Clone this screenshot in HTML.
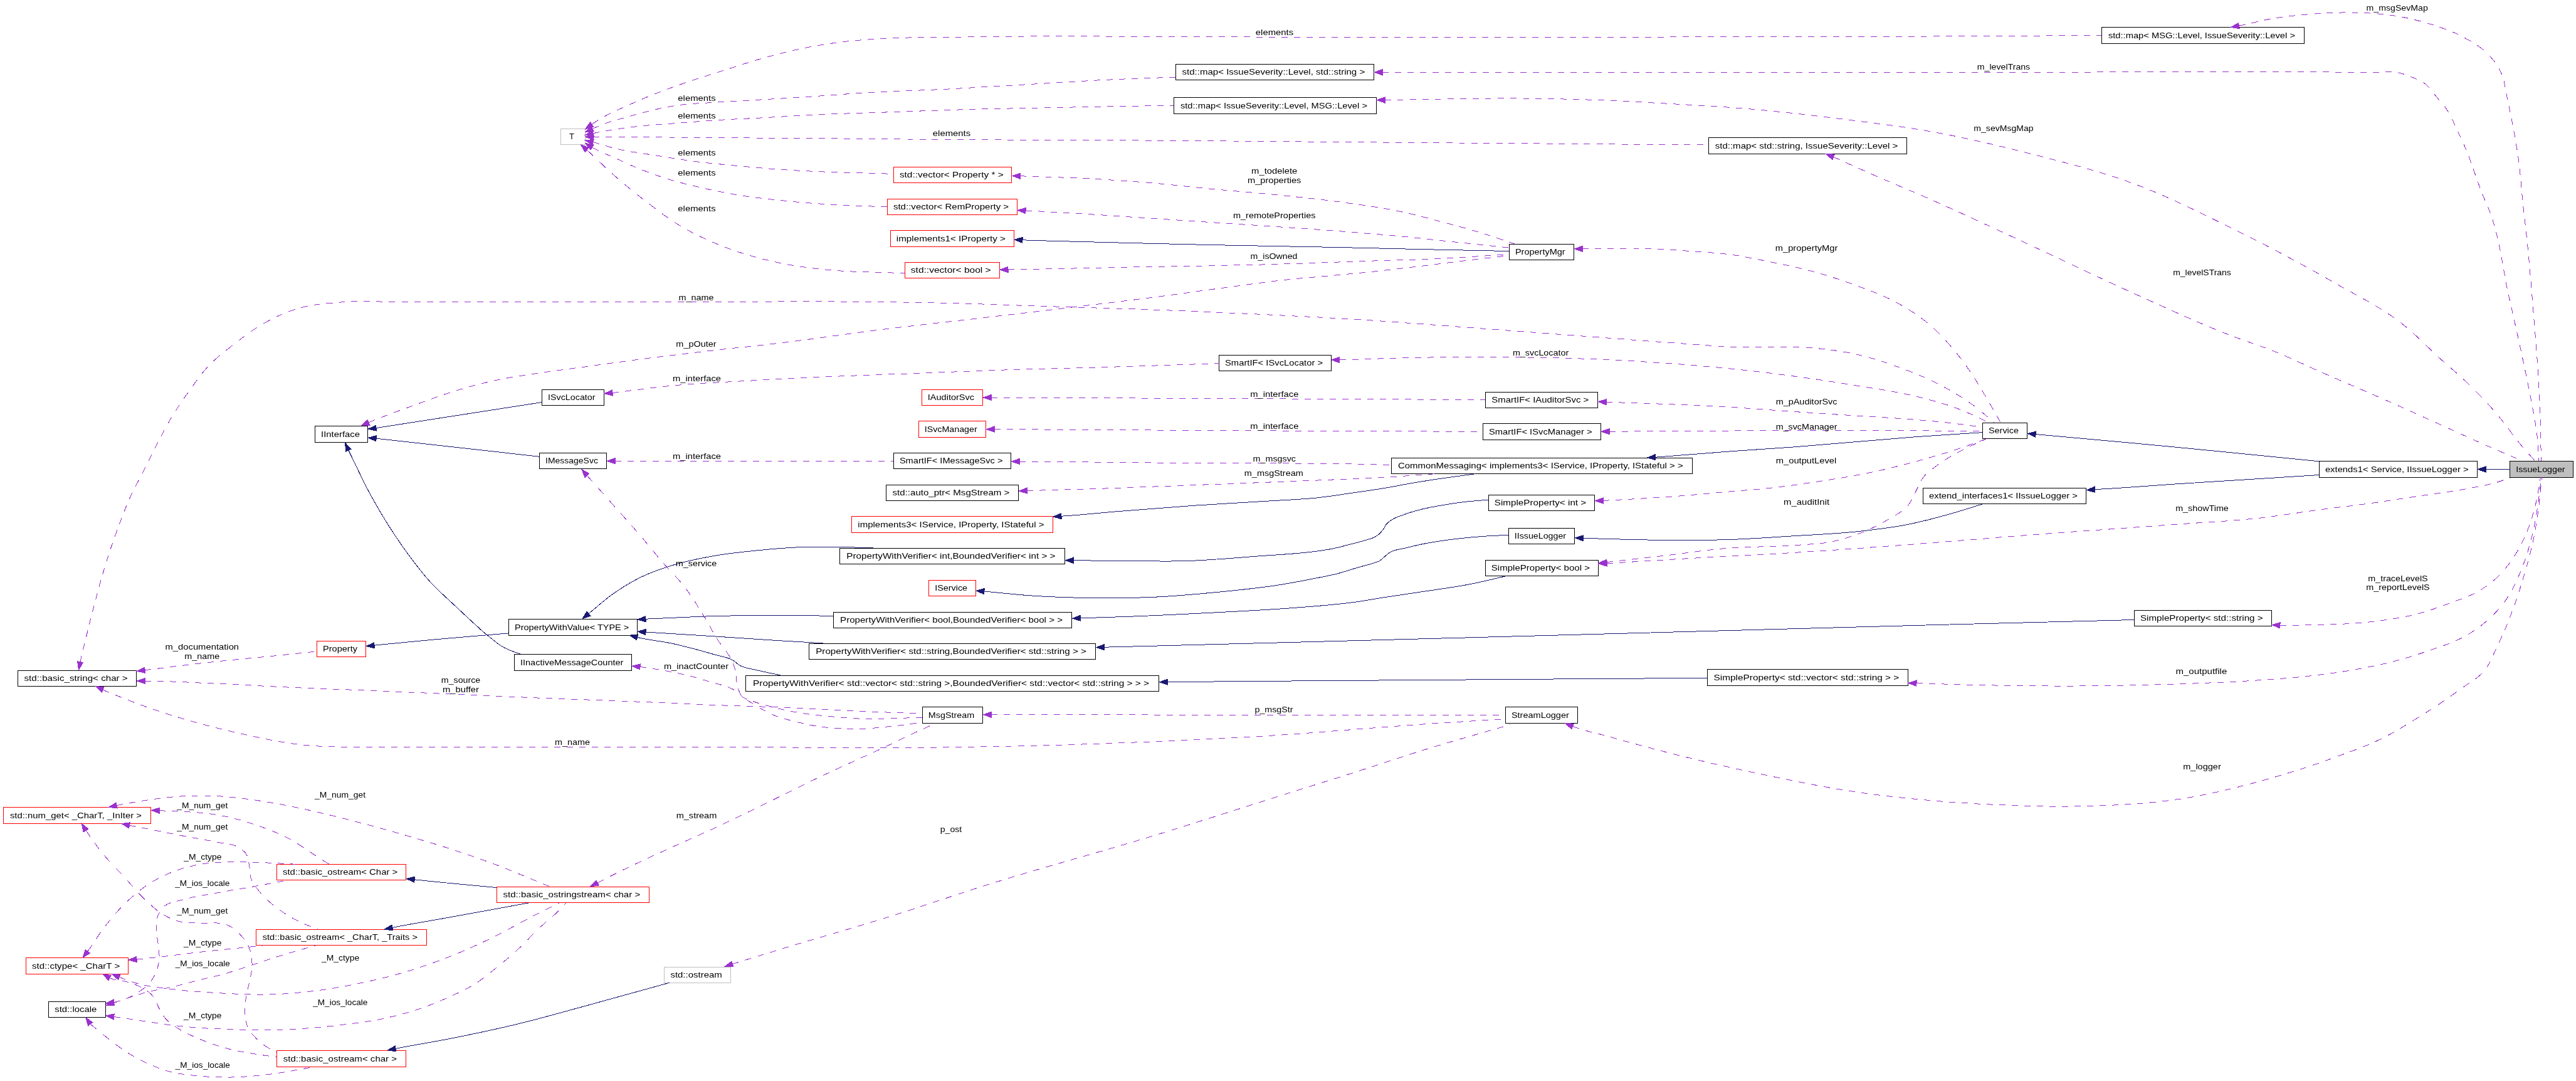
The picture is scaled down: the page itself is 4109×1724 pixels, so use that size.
<!DOCTYPE html>
<html><head><meta charset="utf-8"><title>IssueLogger collaboration diagram</title>
<style>html,body{margin:0;padding:0;background:#fff}svg{display:block;will-change:transform}text{font-family:"Liberation Sans",sans-serif;font-size:13.5px;fill:#000}</style></head><body>
<svg width="4109" height="1724" viewBox="0 0 4109 1724">
<rect width="4109" height="1724" fill="#fff"/>
<g stroke-width="1" shape-rendering="crispEdges">
<rect x="894.5" y="205.5" width="39" height="25" fill="#fff" stroke="#bfbfbf"/>
<rect x="3352.5" y="43.5" width="323" height="26" fill="#fff" stroke="#000"/>
<rect x="1875.5" y="102.5" width="316" height="25" fill="#fff" stroke="#000"/>
<rect x="1872.5" y="155.5" width="323" height="26" fill="#fff" stroke="#000"/>
<rect x="2725.5" y="219.5" width="316" height="26" fill="#fff" stroke="#000"/>
<rect x="1425.5" y="266.5" width="188" height="25" fill="#fff" stroke="#ff0000"/>
<rect x="1415.5" y="317.5" width="207" height="25" fill="#fff" stroke="#ff0000"/>
<rect x="1420.5" y="367.5" width="197" height="26" fill="#fff" stroke="#ff0000"/>
<rect x="1443.5" y="418.5" width="151" height="25" fill="#fff" stroke="#ff0000"/>
<rect x="2407.5" y="389.5" width="103" height="25" fill="#fff" stroke="#000"/>
<rect x="1944.5" y="566.5" width="179" height="25" fill="#fff" stroke="#000"/>
<rect x="864.5" y="621.5" width="99" height="25" fill="#fff" stroke="#000"/>
<rect x="1470.5" y="621.5" width="97" height="25" fill="#fff" stroke="#ff0000"/>
<rect x="2369.5" y="625.5" width="179" height="25" fill="#fff" stroke="#000"/>
<rect x="502.5" y="679.5" width="84" height="26" fill="#fff" stroke="#000"/>
<rect x="1465.5" y="671.5" width="107" height="26" fill="#fff" stroke="#ff0000"/>
<rect x="2365.5" y="675.5" width="188" height="26" fill="#fff" stroke="#000"/>
<rect x="3162.5" y="674.5" width="71" height="25" fill="#fff" stroke="#000"/>
<rect x="860.5" y="722.5" width="107" height="25" fill="#fff" stroke="#000"/>
<rect x="1425.5" y="722.5" width="187" height="25" fill="#fff" stroke="#000"/>
<rect x="2219.5" y="730.5" width="480" height="25" fill="#fff" stroke="#000"/>
<rect x="3699.5" y="735.5" width="252" height="26" fill="#fff" stroke="#000"/>
<rect x="4003.5" y="735.5" width="101" height="26" fill="#bfbfbf" stroke="#000"/>
<rect x="1413.5" y="773.5" width="211" height="25" fill="#fff" stroke="#000"/>
<rect x="2374.5" y="789.5" width="169" height="25" fill="#fff" stroke="#000"/>
<rect x="3067.5" y="778.5" width="260" height="25" fill="#fff" stroke="#000"/>
<rect x="1358.5" y="823.5" width="321" height="26" fill="#fff" stroke="#ff0000"/>
<rect x="2406.5" y="842.5" width="105" height="25" fill="#fff" stroke="#000"/>
<rect x="1339.5" y="874.5" width="359" height="25" fill="#fff" stroke="#000"/>
<rect x="2369.5" y="893.5" width="180" height="25" fill="#fff" stroke="#000"/>
<rect x="1481.5" y="925.5" width="75" height="25" fill="#fff" stroke="#ff0000"/>
<rect x="1329.5" y="976.5" width="380" height="25" fill="#fff" stroke="#000"/>
<rect x="3404.5" y="973.5" width="219" height="25" fill="#fff" stroke="#000"/>
<rect x="811.5" y="987.5" width="205" height="26" fill="#fff" stroke="#000"/>
<rect x="505.5" y="1022.5" width="78" height="25" fill="#fff" stroke="#ff0000"/>
<rect x="1290.5" y="1026.5" width="457" height="25" fill="#fff" stroke="#000"/>
<rect x="820.5" y="1043.5" width="187" height="26" fill="#fff" stroke="#000"/>
<rect x="28.5" y="1069.5" width="189" height="25" fill="#fff" stroke="#000"/>
<rect x="1189.5" y="1077.5" width="659" height="25" fill="#fff" stroke="#000"/>
<rect x="2723.5" y="1067.5" width="320" height="26" fill="#fff" stroke="#000"/>
<rect x="1471.5" y="1127.5" width="96" height="26" fill="#fff" stroke="#000"/>
<rect x="2401.5" y="1127.5" width="115" height="26" fill="#fff" stroke="#000"/>
<rect x="5.5" y="1287.5" width="235" height="26" fill="#fff" stroke="#ff0000"/>
<rect x="441.5" y="1378.5" width="206" height="25" fill="#fff" stroke="#ff0000"/>
<rect x="792.5" y="1414.5" width="243" height="25" fill="#fff" stroke="#ff0000"/>
<rect x="408.5" y="1482.5" width="272" height="25" fill="#fff" stroke="#ff0000"/>
<rect x="41.5" y="1527.5" width="163" height="26" fill="#fff" stroke="#ff0000"/>
<rect x="1059.5" y="1542.5" width="106" height="25" fill="#fff" stroke="#bfbfbf"/>
<rect x="77.5" y="1597.5" width="91" height="25" fill="#fff" stroke="#000"/>
<rect x="441.5" y="1675.5" width="206" height="26" fill="#fff" stroke="#ff0000"/>
</g>
<g fill="none" stroke-width="1" shape-rendering="crispEdges">
<path d="M944,198.4L954,191.7M964,185.8L974,180.6M984,175.9L994,171.4M1004,167L1014,162.5M1024,158.2L1034,154M1044,150L1054,146.2M1064,142.4L1074,138.7M1084,135.2L1094,131.7M1104,128.4L1114,125.1M1124,122L1134,118.8M1144,115.6L1154,112.4M1164,109.2L1174,105.9M1184,102.7L1194,99.6M1204,96.6L1214,93.7M1224,90.9L1234,88.2M1244,85.6L1254,83.1M1264,80.7L1274,78.5M1284,76.4L1294,74.5M1304,72.7L1314,71M1324,69.5L1334,68.1M1344,66.8L1354,65.7M1364,64.7L1374,63.8M1384,63.1L1394,62.4M1404,61.8L1414,61.2M1424,60.8L1434,60.4M1444,60.1L1454,59.9M1464,59.8L1474,59.7M1484,59.6L1494,59.5M1504,59.4L1514,59.3M1524,59.1L1534,59M1544,58.8L1554,58.7M1564,58.6L1574,58.5M1584,58.4L1594,58.3M1604,58.2L1614,58.1M1624,58.1L1634,58M1644,58L1654,57.9M1664,57.9L1674,57.9M1684,57.9L1694,57.9M1704,57.9L1714,57.9M1724,57.9L1734,57.9M1744,57.9L1754,57.9M1764,58L1774,58M1784,58L1794,58.1M1804,58.1L1814,58.1M1824,58.2L1834,58.2M1844,58.3L1854,58.3M1864,58.4L1874,58.4M1884,58.5L1894,58.5M1904,58.6L1914,58.6M1924,58.7L1934,58.7M1944,58.8L1954,58.8M1964,58.8L1974,58.9M1984,58.9L1994,58.9M2004,59L2014,59M2024,59L2034,59M2044,59L2054,59M2064,59L2074,59M2084,59L2094,59M2104,59L2114,59M2124,59L2134,59M2144,59L2154,59M2164,59L2174,59M2184,59L2194,59M2204,59L2214,59M2224,59L2234,59M2244,59L2254,59M2264,59L2274,59M2284,59L2294,59M2304,59L2314,59M2324,59L2334,59M2344,59L2354,59M2364,59L2374,59M2384,59L2394,59M2404,59L2414,59M2424,59L2434,59M2444,59L2454,59M2464,59L2474,59M2484,59L2494,59M2504,59L2514,59M2524,59L2534,59M2544,59L2554,59M2564,59L2574,59M2584,59L2594,59M2604,59L2614,59M2624,59L2634,59M2644,59L2654,59M2664,59L2674,58.9M2684,58.9L2694,58.9M2704,58.9L2714,58.9M2724,58.9L2734,58.9M2744,58.9L2754,58.9M2764,58.9L2774,58.9M2784,58.8L2794,58.8M2804,58.8L2814,58.8M2824,58.8L2834,58.8M2844,58.7L2854,58.7M2864,58.7L2874,58.7M2884,58.7L2894,58.6M2904,58.6L2914,58.6M2924,58.6L2934,58.5M2944,58.5L2954,58.5M2964,58.4L2974,58.4M2984,58.4L2994,58.3M3004,58.3L3014,58.3M3024,58.2L3034,58.2M3044,58.2L3054,58.1M3064,58.1L3074,58M3084,58L3094,57.9M3104,57.9L3114,57.8M3124,57.8L3134,57.7M3144,57.7L3154,57.6M3164,57.6L3174,57.5M3184,57.5L3194,57.4M3204,57.3L3214,57.3M3224,57.2L3234,57.2M3244,57.1L3254,57.1M3264,57L3274,56.9M3284,56.9L3294,56.8M3304,56.8L3314,56.7M3324,56.7L3334,56.6M3344,56.5L3352,56.5" stroke="#9a32cd"/>
<path d="M945.3,205.3L955.3,200.9M965.3,197L975.3,193.7M985.3,190.7L995.3,187.8M1005.3,185.1L1015.3,182.4M1025.3,179.7L1035.3,177.1M1045.3,174.7L1055.3,172.5M1065.3,170.5L1075.3,168.7M1085.3,167.3L1095.3,166.2M1105.3,165.4L1115.3,164.7M1125.3,164.2L1135.3,163.6M1145.3,163L1155.3,162.4M1165.3,161.8L1175.3,161.2M1185.3,160.6L1195.3,160M1205.3,159.5L1215.3,158.9M1225.3,158.3L1235.3,157.7M1245.3,157.1L1255.3,156.5M1265.3,155.9L1275.3,155.3M1285.3,154.6L1295.3,153.9M1305.3,153.2L1315.3,152.5M1325.3,151.8L1335.3,151M1345.3,150.3L1355.3,149.6M1365.3,148.9L1375.3,148.3M1385.3,147.7L1395.3,147.1M1405.3,146.6L1415.3,146.2M1425.3,145.7L1435.3,145.3M1445.3,144.9L1455.3,144.5M1465.3,144.1L1475.3,143.7M1485.3,143.3L1495.3,142.8M1505.3,142.4L1515.3,141.9M1525.3,141.3L1535.3,140.8M1545.3,140.2L1555.3,139.6M1565.3,139L1575.3,138.5M1585.3,137.9L1595.3,137.2M1605.3,136.6L1615.3,136M1625.3,135.5L1635.3,134.9M1645.3,134.3L1655.3,133.7M1665.3,133.1L1675.3,132.4M1685.3,131.8L1695.3,131.2M1705.3,130.6L1715.3,130M1725.3,129.4L1735.3,128.8M1745.3,128.3L1755.3,127.7M1765.3,127.3L1775.3,126.8M1785.3,126.4L1795.3,125.9M1805.3,125.6L1815.3,125.2M1825.3,124.8L1835.3,124.5M1845.3,124.1L1855.3,123.7M1865.3,123.4L1875,123" stroke="#9a32cd"/>
<path d="M946.2,212.7L956.2,210.6M966.2,208.8L976.2,207.1M986.2,205.5L996.2,204.1M1006.2,202.8L1016.2,201.6M1026.2,200.6L1036.2,199.7M1046.2,198.9L1056.2,198.2M1066.2,197.5L1076.2,196.8M1086.2,196L1096.2,195.2M1106.2,194.4L1116.2,193.6M1126.2,192.9L1136.2,192.2M1146.2,191.5L1156.2,190.9M1166.2,190.3L1176.2,189.8M1186.2,189.3L1196.2,188.9M1206.2,188.4L1216.2,187.8M1226.2,187.3L1236.2,186.7M1246.2,186.1L1256.2,185.5M1266.2,185L1276.2,184.4M1286.2,183.8L1296.2,183.3M1306.2,182.8L1316.2,182.4M1326.2,181.9L1336.2,181.6M1346.2,181.2L1356.2,180.8M1366.2,180.5L1376.2,180.2M1386.2,179.9L1396.2,179.6M1406.2,179.2L1416.2,178.9M1426.2,178.5L1436.2,178.2M1446.2,177.8L1456.2,177.4M1466.2,177.1L1476.2,176.7M1486.2,176.4L1496.2,176M1506.2,175.7L1516.2,175.4M1526.2,175.1L1536.2,174.8M1546.2,174.5L1556.2,174.3M1566.2,174L1576.2,173.8M1586.2,173.6L1596.2,173.3M1606.2,173.1L1616.2,172.9M1626.2,172.6L1636.2,172.4M1646.2,172.2L1656.2,172M1666.2,171.8L1676.2,171.6M1686.2,171.4L1696.2,171.2M1706.2,171.1L1716.2,170.9M1726.2,170.7L1736.2,170.5M1746.2,170.4L1756.2,170.2M1766.2,170L1776.2,169.8M1786.2,169.7L1796.2,169.5M1806.2,169.3L1816.2,169.1M1826.2,169L1836.2,168.8M1846.2,168.6L1856.2,168.5M1866.2,168.3L1872.3,168.2" stroke="#9a32cd"/>
<path d="M946.5,218.3L956.5,218.4M966.5,218.4L976.5,218.5M986.5,218.6L996.5,218.6M1006.5,218.7L1016.5,218.7M1026.5,218.8L1036.5,218.9M1046.5,218.9L1056.5,219M1066.5,219L1076.5,219.1M1086.5,219.2L1096.5,219.2M1106.5,219.3L1116.5,219.3M1126.5,219.4L1136.5,219.5M1146.5,219.5L1156.5,219.6M1166.5,219.7L1176.5,219.7M1186.5,219.8L1196.5,219.9M1206.5,220L1216.5,220M1226.5,220.1L1236.5,220.2M1246.5,220.3L1256.5,220.3M1266.5,220.4L1276.5,220.5M1286.5,220.6L1296.5,220.7M1306.5,220.8L1316.5,220.9M1326.5,220.9L1336.5,221M1346.5,221.1L1356.5,221.2M1366.5,221.3L1376.5,221.4M1386.5,221.5L1396.5,221.6M1406.5,221.7L1416.5,221.8M1426.5,221.8L1436.5,221.9M1446.5,222L1456.5,222.1M1466.5,222.2L1476.5,222.2M1486.5,222.3L1496.5,222.4M1506.5,222.5L1516.5,222.5M1526.5,222.6L1536.5,222.6M1546.5,222.7L1556.5,222.8M1566.5,222.8L1576.5,222.9M1586.5,222.9L1596.5,222.9M1606.5,223L1616.5,223M1626.5,223.1L1636.5,223.1M1646.5,223.2L1656.5,223.2M1666.5,223.2L1676.5,223.3M1686.5,223.3L1696.5,223.3M1706.5,223.4L1716.5,223.4M1726.5,223.5L1736.5,223.5M1746.5,223.5L1756.5,223.6M1766.5,223.6L1776.5,223.7M1786.5,223.7L1796.5,223.8M1806.5,223.8L1816.5,223.9M1826.5,224L1836.5,224M1846.5,224.1L1856.5,224.2M1866.5,224.2L1876.5,224.3M1886.5,224.4L1896.5,224.5M1906.5,224.5L1916.5,224.6M1926.5,224.7L1936.5,224.8M1946.5,224.9L1956.5,225M1966.5,225L1976.5,225.1M1986.5,225.2L1996.5,225.3M2006.5,225.4L2016.5,225.5M2026.5,225.6L2036.5,225.7M2046.5,225.8L2056.5,225.8M2066.5,225.9L2076.5,226M2086.5,226.1L2096.5,226.2M2106.5,226.3L2116.5,226.4M2126.5,226.4L2136.5,226.5M2146.5,226.6L2156.5,226.7M2166.5,226.8L2176.5,226.9M2186.5,226.9L2196.5,227M2206.5,227.1L2216.5,227.2M2226.5,227.2L2236.5,227.3M2246.5,227.4L2256.5,227.5M2266.5,227.6L2276.5,227.6M2286.5,227.7L2296.5,227.8M2306.5,227.9L2316.5,227.9M2326.5,228L2336.5,228.1M2346.5,228.2L2356.5,228.2M2366.5,228.3L2376.5,228.4M2386.5,228.5L2396.5,228.5M2406.5,228.6L2416.5,228.7M2426.5,228.8L2436.5,228.8M2446.5,228.9L2456.5,229M2466.5,229.1L2476.5,229.1M2486.5,229.2L2496.5,229.3M2506.5,229.4L2516.5,229.4M2526.5,229.5L2536.5,229.6M2546.5,229.7L2556.5,229.7M2566.5,229.8L2576.5,229.9M2586.5,230L2596.5,230M2606.5,230.1L2616.5,230.2M2626.5,230.3L2636.5,230.3M2646.5,230.4L2656.5,230.5M2666.5,230.6L2676.5,230.6M2686.5,230.7L2696.5,230.8M2706.5,230.9L2716.5,230.9" stroke="#9a32cd"/>
<path d="M946.1,226.8L956.1,229.5M966.1,232.5L976.1,235.5M986.1,237.9L996.1,240M1006.1,241.8L1016.1,243.4M1026.1,244.9L1036.1,246.4M1046.1,247.9L1056.1,249.6M1066.1,251.2L1076.1,252.7M1086.1,254.3L1096.1,255.7M1106.1,257.1L1116.1,258.4M1126.1,259.6L1136.1,260.6M1146.1,261.7L1156.1,262.6M1166.1,263.5L1176.1,264.5M1186.1,265.4L1196.1,266.3M1206.1,267.2L1216.1,268.1M1226.1,268.9L1236.1,269.7M1246.1,270.4L1256.1,271.1M1266.1,271.7L1276.1,272.2M1286.1,272.7L1296.1,273.2M1306.1,273.7L1316.1,274.1M1326.1,274.5L1336.1,274.9M1346.1,275.2L1356.1,275.5M1366.1,275.7L1376.1,276M1386.1,276.2L1396.1,276.5M1406.1,276.8L1416.1,277.1" stroke="#9a32cd"/>
<path d="M944.6,235.1L954.6,240.5M964.6,245L974.6,249.1M984.6,253.6L994.6,258.2M1004.6,262.8L1014.6,267.1M1024.6,271.1L1034.6,275M1044.6,278.6L1054.6,282.1M1064.6,285.3L1074.6,288.3M1084.6,291L1094.6,293.6M1104.6,296L1114.6,298.4M1124.6,300.7L1134.6,302.9M1144.6,305L1154.6,306.9M1164.6,308.8L1174.6,310.6M1184.6,312.2L1194.6,313.6M1204.6,315L1214.6,316.2M1224.6,317.4L1234.6,318.5M1244.6,319.5L1254.6,320.5M1264.6,321.5L1274.6,322.4M1284.6,323.3L1294.6,324.1M1304.6,324.8L1314.6,325.5M1324.6,326.1L1334.6,326.7M1344.6,327.2L1354.6,327.6M1364.6,328L1374.6,328.4M1384.6,328.8L1394.6,329.2M1404.6,329.6L1414.6,330" stroke="#9a32cd"/>
<path d="M936.2,239.1L946.2,248.5M956.2,258L966.2,267.5M976.2,276.6L986.2,285.4M996.2,293.9L1006.2,302.1M1016.2,310.2L1026.2,318M1036.2,325.7L1046.2,333.4M1056.2,340.9L1066.2,348M1076.2,354.7L1086.2,360.9M1096.2,366.6L1106.2,372M1116.2,376.9L1126.2,381.6M1136.2,386L1146.2,390.1M1156.2,394.1L1166.2,397.8M1176.2,401.3L1186.2,404.5M1196.2,407.5L1206.2,410.4M1216.2,413L1226.2,415.4M1236.2,417.7L1246.2,419.8M1256.2,421.8L1266.2,423.5M1276.2,425.1L1286.2,426.5M1296.2,427.8L1306.2,428.9M1316.2,429.9L1326.2,430.9M1336.2,431.7L1346.2,432.4M1356.2,432.9L1366.2,433.3M1376.2,433.6L1386.2,433.9M1396.2,434.2L1406.2,434.5M1416.2,434.8L1426.2,435.1M1436.2,435.4L1443,435.6" stroke="#9a32cd"/>
<path d="M1627.5,280.8L1637.5,281.1M1647.5,281.4L1657.5,281.7M1667.5,282L1677.5,282.4M1687.5,282.8L1697.5,283.2M1707.5,283.6L1717.5,284M1727.5,284.5L1737.5,285M1747.5,285.6L1757.5,286.1M1767.5,286.7L1777.5,287.4M1787.5,288L1797.5,288.7M1807.5,289.4L1817.5,290.2M1827.5,290.9L1837.5,291.8M1847.5,292.7L1857.5,293.6M1867.5,294.6L1877.5,295.7M1887.5,296.7L1897.5,297.8M1907.5,298.8L1917.5,299.9M1927.5,300.9L1937.5,301.8M1947.5,302.7L1957.5,303.6M1967.5,304.5L1977.5,305.4M1987.5,306.2L1997.5,307.1M2007.5,308L2017.5,308.9M2027.5,309.9L2037.5,310.9M2047.5,311.9L2057.5,312.9M2067.5,313.9L2077.5,315M2087.5,316.1L2097.5,317.2M2107.5,318.4L2117.5,319.6M2127.5,320.8L2137.5,322.1M2147.5,323.5L2157.5,324.9M2167.5,326.2L2177.5,327.6M2187.5,329.1L2197.5,330.7M2207.5,332.3L2217.5,334.1M2227.5,336.1L2237.5,338.2M2247.5,340.5L2257.5,342.9M2267.5,345.4L2277.5,348M2287.5,350.6L2297.5,353.3M2307.5,355.9L2317.5,358.6M2327.5,361.3L2337.5,364M2347.5,366.9L2357.5,369.8M2367.5,372.9L2377.5,376.1M2387.5,379.4L2397.5,382.7M2407.5,386.1L2416.4,389" stroke="#9a32cd"/>
<path d="M1636,336L1646,336.4M1656,336.9L1666,337.5M1676,338L1686,338.6M1696,339.2L1706,339.8M1716,340.4L1726,341M1736,341.6L1746,342.2M1756,342.8L1766,343.5M1776,344.2L1786,344.8M1796,345.5L1806,346.2M1816,346.9L1826,347.5M1836,348.2L1846,348.9M1856,349.5L1866,350.2M1876,350.9L1886,351.6M1896,352.2L1906,352.9M1916,353.6L1926,354.2M1936,354.9L1946,355.6M1956,356.2L1966,356.9M1976,357.5L1986,358.2M1996,358.8L2006,359.5M2016,360.2L2026,360.8M2036,361.5L2046,362.2M2056,362.9L2066,363.6M2076,364.3L2086,365M2096,365.7L2106,366.5M2116,367.2L2126,368M2136,368.7L2146,369.5M2156,370.3L2166,371.1M2176,371.9L2186,372.7M2196,373.5L2206,374.4M2216,375.2L2226,376.1M2236,377.1L2246,378M2256,379.1L2266,380.1M2276,381.2L2286,382.3M2296,383.3L2306,384.4M2316,385.5L2326,386.6M2336,387.6L2346,388.7M2356,389.7L2366,390.7M2376,391.8L2386,392.8M2396,393.9L2406,394.9" stroke="#9a32cd"/>
<path d="M1631,382.8C1631.2,382.8 1631.3,382.8 1631.5,382.8C1665.3,384.1 1699.2,384.8 1733,385.7C1799.7,387.5 1866.3,389.1 1933,390.6C2001.8,392.1 2070.6,393.1 2139.4,394.6C2180.6,395.5 2221.8,396.6 2263,397.5C2311,398.6 2359,399.5 2407,400.5" stroke="#191970"/>
<path d="M1608,430L1618,429.9M1628,429.7L1638,429.5M1648,429.3L1658,429.1M1668,428.9L1678,428.7M1688,428.5L1698,428.3M1708,428.1L1718,427.9M1728,427.6L1738,427.4M1748,427.2L1758,427M1768,426.8L1778,426.6M1788,426.4L1798,426.2M1808,426L1818,425.8M1828,425.6L1838,425.4M1848,425.2L1858,425.1M1868,424.9L1878,424.7M1888,424.6L1898,424.4M1908,424.2L1918,424M1928,423.8L1938,423.6M1948,423.4L1958,423.2M1968,423L1978,422.8M1988,422.6L1998,422.4M2008,422.1L2018,421.9M2028,421.6L2038,421.3M2048,421L2058,420.7M2068,420.4L2078,420.1M2088,419.7L2098,419.4M2108,419L2118,418.6M2128,418.3L2138,417.9M2148,417.5L2158,417.2M2168,416.8L2178,416.4M2188,416.1L2198,415.8M2208,415.4L2218,415.1M2228,414.8L2238,414.6M2248,414.3L2258,414M2268,413.6L2278,413.3M2288,412.9L2298,412.4M2308,411.9L2318,411.4M2328,410.8L2338,410.1M2348,409.5L2358,408.8M2368,408.1L2378,407.4M2388,406.7L2398,406.1" stroke="#9a32cd"/>
<path d="M588,673.8L598,669.7M608,665.7L618,661.9M628,658.1L638,654.5M648,650.9L658,647.3M668,643.6L678,639.9M688,636.3L698,632.7M708,629.2L718,625.9M728,622.8L738,619.9M748,617L758,614.3M768,611.8L778,609.4M788,607.1L798,605M808,603.1L818,601.4M828,599.7L838,598.2M848,596.7L858,595.2M868,593.8L878,592.3M888,590.9L898,589.6M908,588.3L918,586.9M928,585.6L938,584.3M948,582.9L958,581.5M968,580.1L978,578.8M988,577.4L998,576M1008,574.7L1018,573.4M1028,572.1L1038,570.8M1048,569.5L1058,568.3M1068,567.1L1078,565.9M1088,564.7L1098,563.5M1108,562.4L1118,561.2M1128,560L1138,558.9M1148,557.7L1158,556.6M1168,555.5L1178,554.4M1188,553.4L1198,552.3M1208,551.2L1218,550.1M1228,548.9L1238,547.8M1248,546.6L1258,545.4M1268,544.1L1278,542.8M1288,541.5L1298,540.1M1308,538.8L1318,537.4M1328,536L1338,534.7M1348,533.3L1358,531.9M1368,530.6L1378,529.2M1388,527.9L1398,526.6M1408,525.4L1418,524.2M1428,523L1438,521.8M1448,520.6L1458,519.4M1468,518.3L1478,517.1M1488,516L1498,514.8M1508,513.7L1518,512.6M1528,511.4L1538,510.3M1548,509.2L1558,508M1568,506.8L1578,505.7M1588,504.5L1598,503.3M1608,502.1L1618,501M1628,499.8L1638,498.6M1648,497.5L1658,496.3M1668,495.1L1678,493.9M1688,492.7L1698,491.5M1708,490.3L1718,489.1M1728,487.9L1738,486.7M1748,485.5L1758,484.3M1768,483.1L1778,481.9M1788,480.7L1798,479.4M1808,478.2L1818,476.9M1828,475.7L1838,474.4M1848,473.1L1858,471.7M1868,470.4L1878,469M1888,467.6L1898,466.3M1908,464.9L1918,463.5M1928,462.2L1938,460.8M1948,459.5L1958,458.2M1968,456.8L1978,455.5M1988,454.1L1998,452.8M2008,451.5L2018,450.2M2028,448.9L2038,447.7M2048,446.6L2058,445.5M2068,444.5L2078,443.6M2088,442.7L2098,441.8M2108,441L2118,440.1M2128,439.2L2138,438.3M2148,437.3L2158,436.4M2168,435.4L2178,434.4M2188,433.4L2198,432.4M2208,431.3L2218,430.1M2228,429L2238,427.8M2248,426.6L2258,425.4M2268,424.2L2278,423M2288,421.7L2298,420.5M2308,419.2L2318,418M2328,416.7L2338,415.5M2348,414.4L2358,413.2M2368,412L2378,410.9M2388,409.7L2398,408.6" stroke="#9a32cd"/>
<path d="M128,1055.6L130.1,1045.6M132.5,1035.6L135.1,1025.6M137.5,1015.6L140,1005.6M142.4,995.6L145,985.6M147.5,975.6L150.1,965.6M152.8,955.6L155.4,945.6M158.1,935.6L160.9,925.6M163.8,915.6L166.8,905.6M169.9,895.6L173.1,885.6M176.3,875.6L179.7,865.6M183.2,855.6L186.9,845.6M190.5,835.6L194.3,825.6M198.2,815.6L202.2,805.6M206.5,795.6L211.2,785.6M216.2,775.6L221.5,765.6M226.7,755.6L231.8,745.6M236.8,735.6L241.8,725.6M246.8,715.6L251.9,705.6M257,695.6L262.3,685.6M267.7,675.6L273.6,665.6M279.8,655.6L286.4,645.6M293.2,635.6L300.3,625.6M307.4,615.6L314.6,605.6M322.2,595.6L330.7,585.6M340.5,575.8L350.5,566.9M360.5,558.8L370.5,551.1M380.5,543.4L390.5,535.8M400.5,528.5L410.5,521.9M420.5,515.9L430.5,510.4M440.5,505.4L450.5,500.9M460.5,496.9L470.5,493.4M480.5,490.5L490.5,488.2M500.5,486.4L510.5,485M520.5,483.9L530.5,483.1M540.5,482.3L550.5,481.5M560.5,481L570.5,480.7M580.5,480.6L590.5,480.7M600.5,480.9L610.5,481.1M620.5,481.4L630.5,481.5M640.5,481.6L650.5,481.6M660.5,481.6L670.5,481.6M680.5,481.6L690.5,481.6M700.5,481.6L710.5,481.6M720.5,481.6L730.5,481.6M740.5,481.6L750.5,481.6M760.5,481.6L770.5,481.6M780.5,481.6L790.5,481.6M800.5,481.6L810.5,481.6M820.5,481.6L830.5,481.6M840.5,481.6L850.5,481.6M860.5,481.6L870.5,481.6M880.5,481.6L890.5,481.6M900.5,481.6L910.5,481.6M920.5,481.6L930.5,481.6M940.5,481.6L950.5,481.6M960.5,481.6L970.5,481.6M980.5,481.6L990.5,481.6M1000.5,481.6L1010.5,481.6M1020.5,481.6L1030.5,481.6M1040.5,481.6L1050.5,481.6M1060.5,481.6L1070.5,481.6M1080.5,481.5L1090.5,481.5M1100.5,481.5L1110.5,481.5M1120.5,481.4L1130.5,481.4M1140.5,481.3L1150.5,481.3M1160.5,481.2L1170.5,481.2M1180.5,481.2L1190.5,481.1M1200.5,481.1L1210.5,481M1220.5,481L1230.5,481M1240.5,480.9L1250.5,480.9M1260.5,480.9L1270.5,480.9M1280.5,480.9L1290.5,480.9M1300.5,480.9L1310.5,480.9M1320.5,480.9L1330.5,480.9M1340.5,481L1350.5,481M1360.5,481.1L1370.5,481.2M1380.5,481.2L1390.5,481.3M1400.5,481.4L1410.5,481.6M1420.5,481.7L1430.5,481.8M1440.5,482L1450.5,482.2M1460.5,482.4L1470.5,482.5M1480.5,482.7L1490.5,482.9M1500.5,483.1L1510.5,483.4M1520.5,483.6L1530.5,483.9M1540.5,484.2L1550.5,484.5M1560.5,484.8L1570.5,485.1M1580.5,485.5L1590.5,485.8M1600.5,486.2L1610.5,486.6M1620.5,486.9L1630.5,487.3M1640.5,487.6L1650.5,487.9M1660.5,488.3L1670.5,488.6M1680.5,488.9L1690.5,489.2M1700.5,489.5L1710.5,489.8M1720.5,490.1L1730.5,490.4M1740.5,490.7L1750.5,491.1M1760.5,491.4L1770.5,491.7M1780.5,492L1790.5,492.3M1800.5,492.7L1810.5,493M1820.5,493.3L1830.5,493.7M1840.5,494.1L1850.5,494.5M1860.5,494.8L1870.5,495.2M1880.5,495.6L1890.5,496M1900.5,496.4L1910.5,496.8M1920.5,497.3L1930.5,497.7M1940.5,498.1L1950.5,498.5M1960.5,499L1970.5,499.4M1980.5,499.9L1990.5,500.4M2000.5,500.8L2010.5,501.3M2020.5,501.8L2030.5,502.3M2040.5,502.8L2050.5,503.3M2060.5,503.8L2070.5,504.3M2080.5,504.8L2090.5,505.3M2100.5,505.8L2110.5,506.4M2120.5,506.9L2130.5,507.5M2140.5,508.1L2150.5,508.6M2160.5,509.2L2170.5,509.9M2180.5,510.5L2190.5,511.2M2200.5,511.8L2210.5,512.5M2220.5,513.3L2230.5,514M2240.5,514.7L2250.5,515.5M2260.5,516.2L2270.5,517M2280.5,517.7L2290.5,518.4M2300.5,519.2L2310.5,519.9M2320.5,520.7L2330.5,521.4M2340.5,522.2L2350.5,522.9M2360.5,523.7L2370.5,524.5M2380.5,525.2L2390.5,526M2400.5,526.7L2410.5,527.5M2420.5,528.2L2430.5,529M2440.5,529.7L2450.5,530.5M2460.5,531.2L2470.5,532M2480.5,532.7L2490.5,533.5M2500.5,534.2L2510.5,535M2520.5,535.7L2530.5,536.5M2540.5,537.2L2550.5,538M2560.5,538.7L2570.5,539.5M2580.5,540.3L2590.5,541M2600.5,541.8L2610.5,542.6M2620.5,543.3L2630.5,544.1M2640.5,544.8L2650.5,545.5M2660.5,546.2L2670.5,546.9M2680.5,547.7L2690.5,548.4M2700.5,549.2L2710.5,549.9M2720.5,550.6L2730.5,551.3M2740.5,552L2750.5,552.5M2760.5,553.1L2770.5,553.5M2780.5,553.8L2790.5,553.9M2800.5,553.9L2810.5,553.8M2820.5,553.6L2830.5,553.4M2840.5,553.3L2850.5,553.2M2860.5,553.3L2870.5,553.5M2880.5,554L2890.5,554.8M2900.5,555.8L2910.5,556.8M2920.5,558.1L2930.5,559.4M2940.5,561L2950.5,562.8M2960.5,564.9L2970.5,567.3M2980.5,569.9L2990.5,572.8M3000.5,575.9L3010.5,579.2M3020.5,582.7L3030.5,586.3M3040.5,590L3050.5,593.9M3060.5,597.9L3070.5,602.2M3080.5,606.8L3090.5,611.7M3100.5,616.9L3110.5,622.5M3120.5,628.3L3130.5,634.5M3140.5,641.2L3150.5,648.5M3160.5,656.6L3170.5,665M3180.5,673.3L3181.3,674" stroke="#9a32cd"/>
<path d="M2524.3,396.9L2534.3,396.9M2544.3,396.8L2554.3,396.6M2564.3,396.4L2574.3,396.3M2584.3,396.1L2594.3,396.1M2604.3,396L2614.3,396.1M2624.3,396.3L2634.3,396.7M2644.3,397.1L2654.3,397.7M2664.3,398.3L2674.3,398.9M2684.3,399.6L2694.3,400.4M2704.3,401.1L2714.3,401.8M2724.3,402.5L2734.3,403.3M2744.3,404.2L2754.3,405.3M2764.3,406.6L2774.3,408.1M2784.3,409.9L2794.3,411.7M2804.3,413.7L2814.3,415.8M2824.3,417.8L2834.3,419.9M2844.3,421.9L2854.3,424M2864.3,426.2L2874.3,428.5M2884.3,431L2894.3,433.7M2904.3,436.5L2914.3,439.5M2924.3,442.6L2934.3,445.9M2944.3,449.3L2954.3,452.9M2964.3,456.6L2974.3,460.3M2984.3,464.1L2994.3,468M3004.3,472.2L3014.3,476.8M3024.3,481.9L3034.3,487.5M3044.3,493.4L3054.3,499.9M3064.3,507L3074.3,514.8M3084.3,523.5L3094.3,533.2M3103.7,543.2L3112.7,553.2M3121,563.2L3128.8,573.2M3136.1,583.2L3143.1,593.2M3149.7,603.2L3155.9,613.2M3161.8,623.2L3167.7,633.2M3173.6,643.2L3179.4,653.2M3185.1,663.2L3190.8,673.2" stroke="#9a32cd"/>
<path d="M2136.8,574L2146.8,573.7M2156.8,573.4L2166.8,573.1M2176.8,572.7L2186.8,572.4M2196.8,572.1L2206.8,571.7M2216.8,571.4L2226.8,571.1M2236.8,570.9L2246.8,570.6M2256.8,570.4L2266.8,570.2M2276.8,570.1L2286.8,569.9M2296.8,569.8L2306.8,569.7M2316.8,569.7L2326.8,569.6M2336.8,569.6L2346.8,569.5M2356.8,569.5L2366.8,569.6M2376.8,569.6L2386.8,569.6M2396.8,569.7L2406.8,569.8M2416.8,569.9L2426.8,570M2436.8,570.1L2446.8,570.2M2456.8,570.4L2466.8,570.6M2476.8,570.8L2486.8,571M2496.8,571.3L2506.8,571.5M2516.8,571.8L2526.8,572.2M2536.8,572.6L2546.8,573M2556.8,573.4L2566.8,573.9M2576.8,574.4L2586.8,574.9M2596.8,575.4L2606.8,576M2616.8,576.6L2626.8,577.2M2636.8,577.9L2646.8,578.6M2656.8,579.3L2666.8,580M2676.8,580.7L2686.8,581.5M2696.8,582.3L2706.8,583.1M2716.8,584L2726.8,584.8M2736.8,585.7L2746.8,586.7M2756.8,587.7L2766.8,588.7M2776.8,589.7L2786.8,590.8M2796.8,591.9L2806.8,593.1M2816.8,594.3L2826.8,595.5M2836.8,596.8L2846.8,598.1M2856.8,599.4L2866.8,600.7M2876.8,602.1L2886.8,603.5M2896.8,604.9L2906.8,606.4M2916.8,607.9L2926.8,609.5M2936.8,611L2946.8,612.6M2956.8,614.3L2966.8,615.9M2976.8,617.5L2986.8,619.1M2996.8,620.7L3006.8,622.3M3016.8,624L3026.8,625.9M3036.8,627.8L3046.8,630M3056.8,632.3L3066.8,634.8M3076.8,637.4L3086.8,640.1M3096.8,643L3106.8,646.1M3116.8,649.5L3126.8,653.2M3136.8,657.3L3146.8,661.8M3156.8,666.5L3166.8,671.2" stroke="#9a32cd"/>
<path d="M2562.2,641.2L2572.2,641.5M2582.2,641.9L2592.2,642.2M2602.2,642.5L2612.2,642.8M2622.2,643.2L2632.2,643.5M2642.2,643.9L2652.2,644.3M2662.2,644.7L2672.2,645.1M2682.2,645.5L2692.2,645.9M2702.2,646.4L2712.2,646.8M2722.2,647.3L2732.2,647.8M2742.2,648.3L2752.2,648.9M2762.2,649.5L2772.2,650.1M2782.2,650.8L2792.2,651.5M2802.2,652.2L2812.2,652.9M2822.2,653.7L2832.2,654.4M2842.2,655.1L2852.2,655.9M2862.2,656.5L2872.2,657.2M2882.2,657.9L2892.2,658.6M2902.2,659.2L2912.2,659.9M2922.2,660.5L2932.2,661.2M2942.2,661.8L2952.2,662.5M2962.2,663.1L2972.2,663.8M2982.2,664.4L2992.2,665M3002.2,665.6L3012.2,666.2M3022.2,666.9L3032.2,667.6M3042.2,668.3L3052.2,669.1M3062.2,669.9L3072.2,670.8M3082.2,671.7L3092.2,672.6M3102.2,673.6L3112.2,674.7M3122.2,675.9L3132.2,677.2M3142.2,678.6L3152.2,680" stroke="#9a32cd"/>
<path d="M2567.2,688.2L2577.2,688.1M2587.2,688.1L2597.2,688M2607.2,687.9L2617.2,687.9M2627.2,687.8L2637.2,687.7M2647.2,687.7L2657.2,687.6M2667.2,687.5L2677.2,687.5M2687.2,687.4L2697.2,687.3M2707.2,687.3L2717.2,687.2M2727.2,687.2L2737.2,687.1M2747.2,687.1L2757.2,687M2767.2,687L2777.2,686.9M2787.2,686.9L2797.2,686.9M2807.2,686.8L2817.2,686.8M2827.2,686.8L2837.2,686.8M2847.2,686.8L2857.2,686.8M2867.2,686.8L2877.2,686.8M2887.2,686.7L2897.2,686.7M2907.2,686.8L2917.2,686.8M2927.2,686.8L2937.2,686.8M2947.2,686.8L2957.2,686.8M2967.2,686.8L2977.2,686.8M2987.2,686.8L2997.2,686.8M3007.2,686.8L3017.2,686.9M3027.2,686.9L3037.2,686.9M3047.2,686.9L3057.2,686.9M3067.2,686.9L3077.2,686.9M3087.2,687L3097.2,687M3107.2,687L3117.2,687M3127.2,687L3137.2,687M3147.2,687L3157.2,687" stroke="#9a32cd"/>
<path d="M2640.8,729.2C2680.3,726.1 2719.8,722.8 2759.4,719.9C2792.9,717.4 2826.5,715.5 2860,713C2893.4,710.5 2926.7,707.5 2960,704.7C2993.2,701.9 3026.4,698.9 3059.7,696.4C3093.8,693.9 3127.9,691.9 3162,689.7" stroke="#191970"/>
<path d="M2557.2,798.5L2567.2,797.9M2577.2,797.4L2587.2,796.9M2597.2,796.3L2607.2,795.8M2617.2,795.2L2627.2,794.6M2637.2,794L2647.2,793.4M2657.2,792.7L2667.2,791.9M2677.2,791.2L2687.2,790.3M2697.2,789.5L2707.2,788.6M2717.2,787.8L2727.2,786.9M2737.2,786L2747.2,785.1M2757.2,784.2L2767.2,783.3M2777.2,782.5L2787.2,781.7M2797.2,780.9L2807.2,780M2817.2,779L2827.2,777.9M2837.2,776.8L2847.2,775.5M2857.2,774.2L2867.2,772.8M2877.2,771.3L2887.2,769.9M2897.2,768.4L2907.2,766.8M2917.2,765.3L2927.2,763.7M2937.2,762.1L2947.2,760.4M2957.2,758.7L2967.2,756.8M2977.2,754.9L2987.2,752.8M2997.2,750.7L3007.2,748.4M3017.2,746L3027.2,743.6M3037.2,741L3047.2,738.4M3057.2,735.7L3067.2,732.9M3077.2,730.1L3087.2,727.2M3097.2,724.3L3107.2,721.2M3117.2,718L3127.2,714.7M3137.2,711.2L3147.2,707.6M3157.2,703.9L3167.2,700.3" stroke="#9a32cd"/>
<path d="M2563.1,896.6L2573.1,895.5M2583.1,894.3L2593.1,893.2M2603.1,892.1L2613.1,890.9M2623.1,889.8L2633.1,888.7M2643.1,887.5L2653.1,886.4M2663.1,885.2L2673.1,883.9M2683.1,882.7L2693.1,881.4M2703.1,880.1L2713.1,878.8M2723.1,877.6L2733.1,876.5M2743.1,875.4L2753.1,874.5M2763.1,873.7L2773.1,873.1M2783.1,872.7L2793.1,872.3M2803.1,872.1L2813.1,871.8M2823.1,871.6L2833.1,871.3M2843.1,870.8L2853.1,870.3M2863.1,869.6L2873.1,868.9M2883.1,868.3L2893.1,867.6M2903.1,866.7L2913.1,865.5M2923.1,863.7L2933.1,861.4M2943.1,858.6L2953.1,855.4M2963.1,851.9L2973.1,847.9M2983.1,843.6L2993.1,838.9M3003.1,833.6L3013.1,827.8M3023.1,822.1L3033.1,815.6M3042.9,806.7L3046.5,801.7L3049.5,796.7M3054.5,786.7L3059.4,776.7M3064.1,766.7L3068.2,760.6L3071.8,756.7M3081.8,748.2L3091.8,740.9M3101.8,733.9L3111.8,727.8M3121.8,722.3L3131.8,717.2M3141.8,712.2L3151.8,707.4M3161.8,702.8L3168,700" stroke="#9a32cd"/>
<path d="M977,626.6L987,625.4M997,624.1L1007,622.8M1017,621.6L1027,620.3M1037,619L1047,617.8M1057,616.7L1067,615.6M1077,614.6L1087,613.8M1097,612.9L1107,612.2M1117,611.5L1127,610.9M1137,610.3L1147,609.7M1157,609.2L1167,608.7M1177,608.2L1187,607.6M1197,607.1L1207,606.6M1217,606L1227,605.5M1237,604.9L1247,604.4M1257,603.9L1267,603.4M1277,602.9L1287,602.4M1297,601.9L1307,601.5M1317,601L1327,600.6M1337,600.1L1347,599.7M1357,599.3L1367,598.9M1377,598.5L1387,598.1M1397,597.8L1407,597.4M1417,597L1427,596.7M1437,596.3L1447,596M1457,595.6L1467,595.2M1477,594.8L1487,594.4M1497,594L1507,593.6M1517,593.2L1527,592.8M1537,592.4L1547,592M1557,591.6L1567,591.2M1577,590.8L1587,590.5M1597,590.2L1607,589.8M1617,589.5L1627,589.2M1637,588.9L1647,588.7M1657,588.4L1667,588.1M1677,587.9L1687,587.6M1697,587.3L1707,587.1M1717,586.8L1727,586.5M1737,586.3L1747,586M1757,585.7L1767,585.4M1777,585.1L1787,584.8M1797,584.5L1807,584.2M1817,583.9L1827,583.5M1837,583.2L1847,582.9M1857,582.6L1867,582.2M1877,581.9L1887,581.6M1897,581.3L1907,580.9M1917,580.6L1927,580.3M1937,580L1944.7,579.7" stroke="#9a32cd"/>
<path d="M1581.3,634L1591.3,634M1601.3,634.1L1611.3,634.1M1621.3,634.2L1631.3,634.2M1641.3,634.3L1651.3,634.3M1661.3,634.3L1671.3,634.4M1681.3,634.4L1691.3,634.5M1701.3,634.5L1711.3,634.5M1721.3,634.6L1731.3,634.6M1741.3,634.7L1751.3,634.7M1761.3,634.8L1771.3,634.8M1781.3,634.8L1791.3,634.9M1801.3,634.9L1811.3,635M1821.3,635L1831.3,635M1841.3,635.1L1851.3,635.1M1861.3,635.2L1871.3,635.2M1881.3,635.3L1891.3,635.3M1901.3,635.3L1911.3,635.4M1921.3,635.4L1931.3,635.5M1941.3,635.5L1951.3,635.5M1961.3,635.6L1971.3,635.6M1981.3,635.7L1991.3,635.7M2001.3,635.8L2011.3,635.8M2021.3,635.9L2031.3,635.9M2041.3,635.9L2051.3,636M2061.3,636L2071.3,636.1M2081.3,636.1L2091.3,636.2M2101.3,636.2L2111.3,636.3M2121.3,636.3L2131.3,636.4M2141.3,636.4L2151.3,636.5M2161.3,636.5L2171.3,636.6M2181.3,636.6L2191.3,636.7M2201.3,636.7L2211.3,636.8M2221.3,636.8L2231.3,636.9M2241.3,636.9L2251.3,637M2261.3,637L2271.3,637.1M2281.3,637.1L2291.3,637.2M2301.3,637.2L2311.3,637.3M2321.3,637.3L2331.3,637.4M2341.3,637.5L2351.3,637.5M2361.3,637.6L2369,637.6" stroke="#9a32cd"/>
<path d="M1586.3,684.6L1596.3,684.7M1606.3,684.7L1616.3,684.8M1626.3,684.8L1636.3,684.9M1646.3,684.9L1656.3,685M1666.3,685L1676.3,685.1M1686.3,685.1L1696.3,685.2M1706.3,685.2L1716.3,685.3M1726.3,685.3L1736.3,685.4M1746.3,685.5L1756.3,685.5M1766.3,685.6L1776.3,685.6M1786.3,685.7L1796.3,685.7M1806.3,685.8L1816.3,685.8M1826.3,685.9L1836.3,685.9M1846.3,686L1856.3,686.1M1866.3,686.1L1876.3,686.2M1886.3,686.2L1896.3,686.3M1906.3,686.3L1916.3,686.4M1926.3,686.4L1936.3,686.5M1946.3,686.5L1956.3,686.6M1966.3,686.6L1976.3,686.7M1986.3,686.7L1996.3,686.8M2006.3,686.8L2016.3,686.9M2026.3,686.9L2036.3,687M2046.3,687L2056.3,687.1M2066.3,687.1L2076.3,687.2M2086.3,687.2L2096.3,687.3M2106.3,687.3L2116.3,687.4M2126.3,687.4L2136.3,687.4M2146.3,687.5L2156.3,687.5M2166.3,687.6L2176.3,687.6M2186.3,687.6L2196.3,687.7M2206.3,687.7L2216.3,687.7M2226.3,687.8L2236.3,687.8M2246.3,687.8L2256.3,687.9M2266.3,687.9L2276.3,687.9M2286.3,688L2296.3,688M2306.3,688L2316.3,688M2326.3,688.1L2336.3,688.1M2346.3,688.1L2356.3,688.2" stroke="#9a32cd"/>
<path d="M981.3,735.2L991.3,735.2M1001.3,735.2L1011.3,735.2M1021.3,735.2L1031.3,735.2M1041.3,735.2L1051.3,735.2M1061.3,735.2L1071.3,735.2M1081.3,735.2L1091.3,735.2M1101.3,735.2L1111.3,735.2M1121.3,735.2L1131.3,735.2M1141.3,735.2L1151.3,735.2M1161.3,735.2L1171.3,735.2M1181.3,735.2L1191.3,735.2M1201.3,735.2L1211.3,735.2M1221.3,735.2L1231.3,735.2M1241.3,735.2L1251.3,735.2M1261.3,735.2L1271.3,735.2M1281.3,735.2L1291.3,735.2M1301.3,735.2L1311.3,735.2M1321.3,735.2L1331.3,735.2M1341.3,735.2L1351.3,735.2M1361.3,735.2L1371.3,735.2M1381.3,735.2L1391.3,735.2M1401.3,735.2L1411.3,735.2M1421.3,735.2L1425.2,735.2" stroke="#9a32cd"/>
<path d="M1626.3,736L1636.3,736.1M1646.3,736.2L1656.3,736.3M1666.3,736.4L1676.3,736.4M1686.3,736.5L1696.3,736.6M1706.3,736.7L1716.3,736.8M1726.3,736.9L1736.3,737M1746.3,737.1L1756.3,737.2M1766.3,737.3L1776.3,737.4M1786.3,737.4L1796.3,737.5M1806.3,737.6L1816.3,737.7M1826.3,737.8L1836.3,737.9M1846.3,738L1856.3,738.1M1866.3,738.1L1876.3,738.2M1886.3,738.3L1896.3,738.4M1906.3,738.4L1916.3,738.5M1926.3,738.5L1936.3,738.5M1946.3,738.6L1956.3,738.6M1966.3,738.6L1976.3,738.7M1986.3,738.7L1996.3,738.7M2006.3,738.7L2016.3,738.8M2026.3,738.8L2036.3,738.8M2046.3,738.9L2056.3,738.9M2066.3,739L2076.3,739M2086.3,739.1L2096.3,739.2M2106.3,739.3L2116.3,739.4M2126.3,739.5L2136.3,739.7M2146.3,739.8L2156.3,740M2166.3,740.2L2176.3,740.4M2186.3,740.7L2196.3,740.9M2206.3,741.2L2216.3,741.4" stroke="#9a32cd"/>
<path d="M1638.2,782.6L1648.2,782.3M1658.2,782.1L1668.2,781.8M1678.2,781.5L1688.2,781.3M1698.2,781L1708.2,780.7M1718.2,780.5L1728.2,780.2M1738.2,779.9L1748.2,779.5M1758.2,779.2L1768.2,778.8M1778.2,778.5L1788.2,778.1M1798.2,777.7L1808.2,777.3M1818.2,776.9L1828.2,776.5M1838.2,776.1L1848.2,775.8M1858.2,775.4L1868.2,775M1878.2,774.6L1888.2,774.2M1898.2,773.9L1908.2,773.5M1918.2,773.1L1928.2,772.7M1938.2,772.4L1948.2,772M1958.2,771.6L1968.2,771.3M1978.2,770.9L1988.2,770.5M1998.2,770.1L2008.2,769.7M2018.2,769.3L2028.2,768.9M2038.2,768.6L2048.2,768.2M2058.2,767.8L2068.2,767.4M2078.2,767L2088.2,766.6M2098.2,766.2L2108.2,765.7M2118.2,765.3L2128.2,764.9M2138.2,764.4L2148.2,764M2158.2,763.6L2168.2,763.1M2178.2,762.7L2188.2,762.2M2198.2,761.7L2208.2,761.2M2218.2,760.6L2228.2,760M2238.2,759.3L2248.2,758.6M2258.2,757.9L2268.2,757.2M2278.2,756.5L2288,755.8" stroke="#9a32cd"/>
<path d="M1693,823.2C1693.2,823.2 1693.3,823.2 1693.5,823.2C1723.8,821.4 1754,818 1784.2,815.5C1825.6,812.1 1867,808.8 1908.4,806C1949.8,803.2 1991.3,801.2 2032.7,798.5C2055.1,797.1 2077.6,796.3 2100,794C2119,792 2137.9,788.9 2156.9,786.2C2173.5,783.8 2190.1,781.5 2206.6,778.8C2223.2,776.1 2239.7,772.6 2256.3,769.8C2270.8,767.4 2285.4,765.1 2300,763C2317.6,760.4 2335.3,758.2 2353,755.8" stroke="#191970"/>
<path d="M600.1,682.6L864,641.6" stroke="#191970"/>
<path d="M600.2,699.2L860,728.2" stroke="#191970"/>
<path d="M555.9,718.1C568.3,743.1 579.6,768.7 593.2,793.1C608.5,820.6 624.9,847.4 643.2,873C657.3,892.7 671.6,912.3 688.1,930C700.1,942.9 713.5,954.5 726.4,966.6C737.4,977 748.5,987.4 759.7,997.6C763.1,1000.7 766.5,1003.9 770,1007C775.2,1011.5 780.6,1015.8 786,1020C790.6,1023.6 795,1027.5 800,1030.5C803.8,1032.8 807.9,1034.7 812,1036.5C817.8,1039.1 824,1040.8 830,1043" stroke="#191970"/>
<path d="M3965.2,748.5L4003.5,748.5" stroke="#191970"/>
<path d="M3247.1,692.6C3297.9,697.2 3348.7,701.7 3399.4,706.4C3422.6,708.6 3445.8,710.8 3469,713C3545.7,720.3 3622.3,728.2 3699,735.8" stroke="#191970"/>
<path d="M3341.4,780.7C3360.7,779.5 3380.1,778.3 3399.4,777C3422.6,775.4 3445.8,773.6 3469,772C3545.6,766.7 3622.3,762.3 3699,757.5" stroke="#191970"/>
<path d="M2525.3,858.4C2566.9,859.4 2608.4,861 2650,861.3C2686.7,861.6 2723.4,861.7 2760,860.5C2793.4,859.4 2826.7,856.9 2860,854.8C2893.3,852.7 2926.8,851.5 2960,848C2987.8,845 3015.6,841.9 3043,836.5C3065.5,832 3087.6,826.1 3109.7,819.9C3127.4,815 3144.8,809.2 3162.3,803.9" stroke="#191970"/>
<path d="M1570,943C1593.3,945.2 1616.6,947.9 1640,949.6C1673.2,952 1706.5,953.1 1739.8,953.6C1773.1,954.1 1806.4,953.8 1839.7,952.3C1873.1,950.8 1906.4,947.8 1939.6,944.6C1973,941.4 2006.4,938.2 2039.5,933C2059.8,929.8 2079.9,925.9 2100,921.9C2111.1,919.7 2122.3,917.7 2133.3,914.9C2144.5,912 2155.5,908.1 2166.6,904.9C2175.4,902.3 2184.5,900.5 2193.2,897.4C2195.4,896.6 2197.8,896 2199.9,894.9C2203,893.2 2205.5,890.5 2208.2,888.2C2211,885.9 2213.5,883.1 2216.6,881.1C2223.8,876.4 2233.2,876.3 2241.5,874.1C2249.8,872 2258.1,870 2266.5,868.2C2277.5,865.9 2288.7,864.1 2299.8,862.4C2310.9,860.8 2322,859.5 2333.1,858.3C2344.2,857.1 2355.3,856.1 2366.4,855.3C2379.7,854.3 2393.1,854 2406.4,853.3" stroke="#191970"/>
<path d="M1712.2,893.7C1743.6,894 1775,894.5 1806.4,894.7C1834.2,894.8 1861.9,895.5 1889.7,894.7C1928.6,893.6 1967.4,890 2006.2,887C2037.5,884.6 2068.9,883.5 2100,879.1C2108.4,877.9 2116.7,876.8 2125,875.2C2133.4,873.5 2141.7,871.2 2150,869.1C2158.3,867 2166.7,864.9 2174.9,862.4C2181,860.5 2187.6,859.5 2193.2,856.3C2195.6,854.9 2197.8,853.4 2199.9,851.6C2202.4,849.4 2204.6,846.8 2206.6,844.1C2208.5,841.5 2209.5,838.3 2211.6,835.8C2213.9,833.1 2216.9,831.1 2219.9,829.1C2226.4,824.7 2234.2,822.7 2241.5,820C2249.7,817 2258.1,814.7 2266.5,812.5C2277.5,809.7 2288.6,807.8 2299.8,805.8C2310.9,803.9 2322,802.2 2333.1,800.8C2346.8,799.1 2360.5,798.3 2374.2,797.1" stroke="#191970"/>
<path d="M1723.8,985.8C1751.9,984.9 1779.9,984.1 1808,983C1852.7,981.3 1897.3,979.1 1942,976.7C1981.3,974.6 2020.7,972.8 2060,969.7C2095.6,966.9 2131.3,964.7 2166.6,959.5C2177.7,957.8 2188.8,955.8 2199.9,954C2222.1,950.5 2244.3,947.4 2266.5,944C2294.3,939.7 2322.2,936.3 2349.8,930.7C2367.6,927.1 2385.3,922.6 2403,918.5" stroke="#191970"/>
<path d="M1761.7,1032.2C1861.1,1029.6 1960.6,1027 2060,1024.4C2238.8,1019.7 2417.7,1014.8 2596.5,1010C2761,1005.5 2925.5,1000.8 3090,996.5C3194.7,993.8 3299.3,991.2 3404,988.5" stroke="#191970"/>
<path d="M1862.7,1087.6C1928.5,1087.1 1994.2,1086.5 2060,1086C2281,1084.3 2502,1082.9 2723,1081.3" stroke="#191970"/>
<path d="M939,978.7C939.2,978.6 939.3,978.4 939.5,978.3C951.8,968.3 963.3,957.5 976.2,948.3C991.1,937.7 1006.8,927.9 1023.3,920C1039.3,912.3 1056.2,906.6 1073.2,901.4C1095,894.7 1117.4,890.3 1139.8,886.4C1161.8,882.5 1184.1,880.3 1206.4,878C1231.9,875.4 1257.4,873.3 1283,872.4C1314,871.3 1345,872.4 1376,873.4C1381.6,873.6 1387.3,873.8 1392.9,874" stroke="#191970"/>
<path d="M1030,987.2C1066.6,985.7 1103.2,983.6 1139.8,982.6C1173.1,981.7 1206.4,981.3 1239.7,981.3C1269.6,981.3 1299.4,982 1329.3,982.3" stroke="#191970"/>
<path d="M1030,1008C1066.6,1010.3 1103.2,1012.5 1139.8,1014.9C1173.1,1017 1206.4,1019.4 1239.7,1021.5C1264.1,1023 1288.6,1024.4 1313,1025.9" stroke="#191970"/>
<path d="M1016.6,1016.3C1016.8,1016.4 1017.1,1016.4 1017.3,1016.5C1035.7,1021 1054.7,1022.5 1073.2,1026.5C1095.7,1031.4 1117.9,1037.6 1140,1044C1149.4,1046.7 1159.5,1047.7 1168,1052.4C1172.7,1055 1176.3,1059.3 1181,1061.8C1188.4,1065.7 1197.2,1066.3 1205.4,1068.3C1219,1071.7 1232.8,1074.3 1246.5,1077.3" stroke="#191970"/>
<path d="M597.1,1029.2C629.1,1026.1 661.1,1022.8 693.1,1019.9C732.5,1016.3 771.9,1013.2 811.3,1009.9" stroke="#191970"/>
<path d="M231.3,1068.8L241.3,1067.5M251.3,1066.3L261.3,1065M271.3,1063.8L281.3,1062.5M291.3,1061.3L301.3,1060.1M311.3,1058.9L321.3,1057.7M331.3,1056.6L341.3,1055.5M351.3,1054.4L361.3,1053.4M371.3,1052.4L381.3,1051.4M391.3,1050.5L401.3,1049.5M411.3,1048.5L421.3,1047.6M431.3,1046.6L441.3,1045.5M451.3,1044.5L461.3,1043.5M471.3,1042.5L481.3,1041.5M491.3,1040.4L501.3,1039.4" stroke="#9a32cd"/>
<path d="M231.4,1086L241.4,1086.1M251.4,1086.2L261.4,1086.5M271.4,1086.9L281.4,1087.3M291.4,1087.7L301.4,1088.2M311.4,1088.7L321.4,1089.2M331.4,1089.6L341.4,1090.1M351.4,1090.5L361.4,1091M371.4,1091.5L381.4,1092M391.4,1092.6L401.4,1093.1M411.4,1093.6L421.4,1094.2M431.4,1094.7L441.4,1095.2M451.4,1095.7L461.4,1096.2M471.4,1096.6L481.4,1097.1M491.4,1097.5L501.4,1097.9M511.4,1098.3L521.4,1098.7M531.4,1099.1L541.4,1099.5M551.4,1099.8L561.4,1100.2M571.4,1100.6L581.4,1101M591.4,1101.4L601.4,1101.8M611.4,1102.3L621.4,1102.7M631.4,1103.1L641.4,1103.5M651.4,1104L661.4,1104.4M671.4,1104.8L681.4,1105.2M691.4,1105.7L701.4,1106.1M711.4,1106.5L721.4,1107M731.4,1107.4L741.4,1107.9M751.4,1108.3L761.4,1108.8M771.4,1109.2L781.4,1109.7M791.4,1110.1L801.4,1110.6M811.4,1111L821.4,1111.5M831.4,1111.9L841.4,1112.3M851.4,1112.8L861.4,1113.2M871.4,1113.6L881.4,1114M891.4,1114.3L901.4,1114.7M911.4,1115.1L921.4,1115.4M931.4,1115.8L941.4,1116.2M951.4,1116.5L961.4,1116.9M971.4,1117.3L981.4,1117.6M991.4,1118L1001.4,1118.4M1011.4,1118.9L1021.4,1119.3M1031.4,1119.7L1041.4,1120.1M1051.4,1120.6L1061.4,1121M1071.4,1121.4L1081.4,1121.9M1091.4,1122.3L1101.4,1122.7M1111.4,1123.2L1121.4,1123.6M1131.4,1124.1L1141.4,1124.5M1151.4,1124.9L1161.4,1125.3M1171.4,1125.6L1181.4,1126M1191.4,1126.3L1201.4,1126.6M1211.4,1126.9L1221.4,1127.2M1231.4,1127.6L1241.4,1128M1251.4,1128.4L1261.4,1128.8M1271.4,1129.3L1281.4,1129.8M1291.4,1130.4L1301.4,1130.9M1311.4,1131.4L1321.4,1131.9M1331.4,1132.4L1341.4,1132.9M1351.4,1133.3L1361.4,1133.8M1371.4,1134.2L1381.4,1134.7M1391.4,1135.1L1401.4,1135.5M1411.4,1135.9L1421.4,1136.3M1431.4,1136.6L1441.4,1137M1451.4,1137.3L1461.4,1137.7" stroke="#9a32cd"/>
<path d="M164.1,1100.2L174.1,1104.3M184.1,1108.4L194.1,1112.5M204.1,1116.4L214.1,1120.2M224.1,1123.9L234.1,1127.6M244.1,1131.1L254.1,1134.5M264.1,1137.7L274.1,1140.9M284.1,1143.9L294.1,1146.9M304.1,1149.8L314.1,1152.6M324.1,1155.3L334.1,1158M344.1,1160.5L354.1,1163M364.1,1165.4L374.1,1167.7M384.1,1170L394.1,1172.2M404.1,1174.4L414.1,1176.5M424.1,1178.6L434.1,1180.6M444.1,1182.4L454.1,1184.1M464.1,1185.6L474.1,1187M484.1,1188.1L494.1,1189.1M504.1,1189.8L514.1,1190.3M524.1,1190.7L534.1,1191M544.1,1191.2L554.1,1191.4M564.1,1191.5L574.1,1191.6M584.1,1191.5L594.1,1191.5M604.1,1191.4L614.1,1191.4M624.1,1191.4L634.1,1191.4M644.1,1191.4L654.1,1191.5M664.1,1191.5L674.1,1191.5M684.1,1191.5L694.1,1191.5M704.1,1191.5L714.1,1191.5M724.1,1191.6L734.1,1191.6M744.1,1191.6L754.1,1191.6M764.1,1191.6L774.1,1191.6M784.1,1191.6L794.1,1191.6M804.1,1191.6L814.1,1191.6M824.1,1191.6L834.1,1191.6M844.1,1191.6L854.1,1191.6M864.1,1191.6L874.1,1191.6M884.1,1191.5L894.1,1191.5M904.1,1191.5L914.1,1191.5M924.1,1191.5L934.1,1191.5M944.1,1191.5L954.1,1191.5M964.1,1191.5L974.1,1191.5M984.1,1191.5L994.1,1191.5M1004.1,1191.5L1014.1,1191.5M1024.1,1191.4L1034.1,1191.4M1044.1,1191.4L1054.1,1191.4M1064.1,1191.4L1074.1,1191.4M1084.1,1191.4L1094.1,1191.4M1104.1,1191.4L1114.1,1191.4M1124.1,1191.4L1134.1,1191.4M1144.1,1191.4L1154.1,1191.5M1164.1,1191.5L1174.1,1191.5M1184.1,1191.6L1194.1,1191.6M1204.1,1191.7L1214.1,1191.7M1224.1,1191.8L1234.1,1191.8M1244.1,1191.9L1254.1,1191.9M1264.1,1192L1274.1,1192M1284.1,1192.1L1294.1,1192.1M1304.1,1192.2L1314.1,1192.2M1324.1,1192.3L1334.1,1192.3M1344.1,1192.3L1354.1,1192.4M1364.1,1192.4L1374.1,1192.4M1384.1,1192.4L1394.1,1192.4M1404.1,1192.4L1414.1,1192.4M1424.1,1192.4L1434.1,1192.4M1444.1,1192.3L1454.1,1192.3M1464.1,1192.2L1474.1,1192.2M1484.1,1192.1L1494.1,1192M1504.1,1191.9L1514.1,1191.8M1524.1,1191.7L1534.1,1191.5M1544.1,1191.4L1554.1,1191.2M1564.1,1191L1574.1,1190.9M1584.1,1190.7L1594.1,1190.4M1604.1,1190.2L1614.1,1190M1624.1,1189.8L1634.1,1189.5M1644.1,1189.3L1654.1,1189.1M1664.1,1188.8L1674.1,1188.5M1684.1,1188.3L1694.1,1188M1704.1,1187.7L1714.1,1187.4M1724.1,1187.1L1734.1,1186.7M1744.1,1186.4L1754.1,1186.1M1764.1,1185.7L1774.1,1185.4M1784.1,1185L1794.1,1184.6M1804.1,1184.2L1814.1,1183.9M1824.1,1183.4L1834.1,1183M1844.1,1182.6L1854.1,1182.2M1864.1,1181.7L1874.1,1181.3M1884.1,1180.8L1894.1,1180.4M1904.1,1179.9L1914.1,1179.4M1924.1,1178.9L1934.1,1178.4M1944.1,1177.9L1954.1,1177.4M1964.1,1176.9L1974.1,1176.3M1984.1,1175.7L1994.1,1175.2M2004.1,1174.6L2014.1,1174M2024.1,1173.4L2034.1,1172.7M2044.1,1172.1L2054.1,1171.4M2064.1,1170.7L2074.1,1170M2084.1,1169.3L2094.1,1168.5M2104.1,1167.7L2114.1,1166.9M2124.1,1166.2L2134.1,1165.4M2144.1,1164.6L2154.1,1163.8M2164.1,1163L2174.1,1162.3M2184.1,1161.5L2194.1,1160.7M2204.1,1159.9L2214.1,1159.2M2224.1,1158.4L2234.1,1157.7M2244.1,1156.9L2254.1,1156.2M2264.1,1155.4L2274.1,1154.7M2284.1,1154L2294.1,1153.4M2304.1,1152.7L2314.1,1152.1M2324.1,1151.4L2334.1,1150.8M2344.1,1150.2L2354.1,1149.6M2364.1,1149L2374.1,1148.4M2384.1,1147.8L2394.1,1147.1" stroke="#9a32cd"/>
<path d="M936.4,758.4L945.3,768.4M954.2,778.4L963.1,788.4M972,798.4L980.9,808.4M989.8,818.4L998.7,828.4M1007.6,838.4L1016.3,848.4M1025,858.4L1033.4,868.4M1041.6,878.4L1049.8,888.4M1058.3,898.4L1067.3,908.4M1076.8,918.4L1085.8,928.4M1093.8,938.4L1101,948.4M1107.7,958.4L1114,968.4M1120.2,978.4L1126.3,988.4M1132,998.4L1137.5,1008.4M1143.4,1018.4L1150.2,1028.4M1158.1,1038.4L1164.9,1048.4M1169.6,1058.4L1172.9,1068.4M1174.2,1078.4L1175.2,1088.4M1177.6,1098.4L1179.2,1103.1L1181.9,1108.4M1191.5,1116.6L1201.5,1122.4M1211.5,1128.7L1221.5,1134.4M1231.5,1139.4L1241.5,1143.3M1251.5,1146.4L1261.5,1149.1M1271.5,1151.6L1281.5,1153.9M1291.5,1156.1L1301.5,1157.9M1311.5,1159.4L1321.5,1160.5M1331.5,1161.3L1341.5,1161.8M1351.5,1162.2L1361.5,1162.4M1371.5,1162.3L1381.5,1162M1391.5,1161.3L1401.5,1160.4M1411.5,1159.4L1421.5,1158.4M1431.5,1157.3L1441.5,1156.1M1451.5,1154.7L1461.5,1153.3" stroke="#9a32cd"/>
<path d="M1021,1063.4L1031,1064.9M1041,1066.3L1051,1067.9M1061,1069.6L1071,1071.5M1081,1073.6L1091,1075.8M1101,1078.2L1111,1080.9M1121,1083.9L1131,1086.9M1141,1089.8L1151,1092.4M1161,1095.6L1171,1100.2M1180.9,1108L1185.5,1112.2L1190.9,1115.2M1200.9,1118.5L1210.9,1121.8M1220.9,1124.7L1230.9,1127.4M1240.9,1129.9L1250.9,1132.2M1260.9,1134.2L1270.9,1136M1280.9,1137.7L1290.9,1139.1M1300.9,1140.3L1310.9,1141.3M1320.9,1142.3L1330.9,1143.2M1340.9,1144.1L1350.9,1144.9M1360.9,1145.6L1370.9,1146.1M1380.9,1146.3L1390.9,1146.3M1400.9,1146.2L1410.9,1146M1420.9,1145.8L1430.9,1145.5M1440.9,1145.2L1450.9,1144.8M1460.9,1144.4L1470.9,1144" stroke="#9a32cd"/>
<path d="M953.2,1407.9L963.2,1402.8M973.2,1397.7L983.2,1392.7M993.2,1387.7L1003.2,1382.9M1013.2,1378.1L1023.2,1373.4M1033.2,1368.7L1043.2,1364.1M1053.2,1359.6L1063.2,1355M1073.2,1350.5L1083.2,1346M1093.2,1341.6L1103.2,1337.2M1113.2,1332.7L1123.2,1328.2M1133.2,1323.7L1143.2,1319.1M1153.2,1314.4L1163.2,1309.6M1173.2,1304.9L1183.2,1300M1193.2,1295.2L1203.2,1290.3M1213.2,1285.4L1223.2,1280.5M1233.2,1275.6L1243.2,1270.7M1253.2,1265.8L1263.2,1260.9M1273.2,1255.9L1283.2,1250.9M1293.2,1246L1303.2,1241.2M1313.2,1236.5L1323.2,1231.8M1333.2,1227.2L1343.2,1222.6M1353.2,1218.1L1363.2,1213.5M1373.2,1208.9L1383.2,1204.4M1393.2,1199.8L1403.2,1195.2M1413.2,1190.5L1423.2,1185.8M1433.2,1180.9L1443.2,1176M1453.2,1171.3L1463.2,1166.7M1473.2,1162.2L1483.2,1157.7" stroke="#9a32cd"/>
<path d="M1581.4,1139.8L1591.4,1139.8M1601.4,1139.8L1611.4,1139.8M1621.4,1139.8L1631.4,1139.8M1641.4,1139.8L1651.4,1139.8M1661.4,1139.8L1671.4,1139.9M1681.4,1139.9L1691.4,1139.9M1701.4,1139.9L1711.4,1139.9M1721.4,1139.9L1731.4,1139.9M1741.4,1139.9L1751.4,1139.9M1761.4,1139.9L1771.4,1139.9M1781.4,1139.9L1791.4,1139.9M1801.4,1139.9L1811.4,1139.9M1821.4,1139.9L1831.4,1140M1841.4,1140L1851.4,1140M1861.4,1140L1871.4,1140M1881.4,1140L1891.4,1140M1901.4,1140L1911.4,1140M1921.4,1140L1931.4,1140M1941.4,1140L1951.4,1140M1961.4,1140L1971.4,1140M1981.4,1140L1991.4,1140.1M2001.4,1140.1L2011.4,1140.1M2021.4,1140.1L2031.4,1140.1M2041.4,1140.1L2051.4,1140.1M2061.4,1140.1L2071.4,1140.1M2081.4,1140.1L2091.4,1140.1M2101.4,1140.1L2111.4,1140.1M2121.4,1140.1L2131.4,1140.1M2141.4,1140.1L2151.4,1140.1M2161.4,1140.2L2171.4,1140.2M2181.4,1140.2L2191.4,1140.2M2201.4,1140.2L2211.4,1140.2M2221.4,1140.2L2231.4,1140.2M2241.4,1140.2L2251.4,1140.2M2261.4,1140.2L2271.4,1140.2M2281.4,1140.2L2291.4,1140.2M2301.4,1140.2L2311.4,1140.2M2321.4,1140.3L2331.4,1140.3M2341.4,1140.3L2351.4,1140.3M2361.4,1140.3L2371.4,1140.3M2381.4,1140.3L2391.4,1140.3" stroke="#9a32cd"/>
<path d="M1168.4,1537.5L1178.4,1534.4M1188.4,1531.3L1198.4,1528.2M1208.4,1525.1L1218.4,1522M1228.4,1519L1238.4,1515.9M1248.4,1512.8L1258.4,1509.8M1268.4,1506.8L1278.4,1503.8M1288.4,1500.9L1298.4,1497.9M1308.4,1495L1318.4,1492M1328.4,1489.1L1338.4,1486.2M1348.4,1483.2L1358.4,1480.3M1368.4,1477.3L1378.4,1474.3M1388.4,1471.2L1398.4,1468.2M1408.4,1465.1L1418.4,1462M1428.4,1458.8L1438.4,1455.6M1448.4,1452.4L1458.4,1449.1M1468.4,1445.8L1478.4,1442.6M1488.4,1439.3L1498.4,1436M1508.4,1432.7L1518.4,1429.4M1528.4,1426.1L1538.4,1422.8M1548.4,1419.6L1558.4,1416.4M1568.4,1413.2L1578.4,1410M1588.4,1406.9L1598.4,1403.8M1608.4,1400.7L1618.4,1397.7M1628.4,1394.7L1638.4,1391.7M1648.4,1388.8L1658.4,1385.9M1668.4,1383L1678.4,1380.1M1688.4,1377.2L1698.4,1374.3M1708.4,1371.4L1718.4,1368.6M1728.4,1365.7L1738.4,1362.8M1748.4,1359.9L1758.4,1357.1M1768.4,1354.2L1778.4,1351.2M1788.4,1348.3L1798.4,1345.4M1808.4,1342.4L1818.4,1339.4M1828.4,1336.4L1838.4,1333.4M1848.4,1330.3L1858.4,1327.2M1868.4,1324.1L1878.4,1321M1888.4,1317.9L1898.4,1314.7M1908.4,1311.6L1918.4,1308.4M1928.4,1305.3L1938.4,1302.1M1948.4,1298.9L1958.4,1295.7M1968.4,1292.5L1978.4,1289.4M1988.4,1286.2L1998.4,1283M2008.4,1279.8L2018.4,1276.6M2028.4,1273.4L2038.4,1270.3M2048.4,1267.1L2058.4,1264M2068.4,1260.8L2078.4,1257.7M2088.4,1254.6L2098.4,1251.4M2108.4,1248.3L2118.4,1245.2M2128.4,1242L2138.4,1238.9M2148.4,1235.7L2158.4,1232.5M2168.4,1229.3L2178.4,1226.1M2188.4,1222.9L2198.4,1219.6M2208.4,1216.3L2218.4,1213M2228.4,1209.8L2238.4,1206.5M2248.4,1203.3L2258.4,1200.1M2268.4,1196.9L2278.4,1193.8M2288.4,1190.8L2298.4,1187.8M2308.4,1184.8L2318.4,1181.9M2328.4,1178.9L2338.4,1176M2348.4,1173.2L2358.4,1170.3M2368.4,1167.4L2378.4,1164.6M2388.4,1161.7L2398.4,1158.8M2408.4,1155.9L2408.7,1155.8" stroke="#9a32cd"/>
<path d="M3571.5,41.1L3581.5,39M3591.5,36.8L3601.5,34.4M3611.5,32.2L3621.5,30.2M3631.5,28.5L3641.5,27M3651.5,25.8L3661.5,24.7M3671.5,23.7L3681.5,22.9M3691.5,22.1L3701.5,21.4M3711.5,20.9L3721.5,20.4M3731.5,20.1L3741.5,19.9M3751.5,20L3761.5,20.2M3771.5,20.5L3781.5,21.1M3791.5,21.8L3801.5,22.7M3811.5,23.9L3821.5,25.4M3831.5,27.2L3841.5,29.2M3851.5,31.5L3861.5,34M3871.5,36.8L3881.5,39.9M3891.5,43.2L3901.5,46.8M3911.5,50.7L3921.5,55.2M3931.5,60.4L3941.5,66M3951.5,72.2L3961.5,79.6M3971.3,89L3979.4,99M3985.9,109L3990.8,119M3994,129L3996.1,139M3997.9,149L3999.9,159M4002.1,169L4004.1,179M4006.1,189L4008,199M4009.9,209L4011.7,219M4013.4,229L4015.1,239M4016.6,249L4018,259M4019.1,269L4020.1,279M4021,289L4021.9,299M4022.8,309L4023.8,319M4024.8,329L4026,339M4027.1,349L4028.2,359M4029.4,369L4030.4,379M4031.5,389L4032.5,399M4033.4,409L4034.4,419M4035.3,429L4036.1,439M4037,449L4037.9,459M4038.7,469L4039.5,479M4040.3,489L4041.1,499M4041.9,509L4042.8,519M4043.6,529L4044.4,539M4045.2,549L4046,559M4046.8,569L4047.5,579M4048.1,589L4048.8,599M4049.3,609L4049.9,619M4050.4,629L4050.8,639M4051.3,649L4051.7,659M4052,669L4052.3,679M4052.5,689L4052.7,699M4052.9,709L4053.1,719M4053.3,729L4053.4,735" stroke="#9a32cd"/>
<path d="M2205,115.3L2215,115.3M2225,115.3L2235,115.3M2245,115.3L2255,115.3M2265,115.3L2275,115.3M2285,115.3L2295,115.3M2305,115.3L2315,115.3M2325,115.3L2335,115.3M2345,115.3L2355,115.3M2365,115.3L2375,115.3M2385,115.3L2395,115.3M2405,115.3L2415,115.3M2425,115.3L2435,115.3M2445,115.3L2455,115.3M2465,115.3L2475,115.3M2485,115.3L2495,115.3M2505,115.3L2515,115.3M2525,115.3L2535,115.3M2545,115.3L2555,115.3M2565,115.3L2575,115.3M2585,115.3L2595,115.3M2605,115.3L2615,115.3M2625,115.3L2635,115.3M2645,115.3L2655,115.3M2665,115.3L2675,115.3M2685,115.3L2695,115.3M2705,115.3L2715,115.3M2725,115.3L2735,115.3M2745,115.3L2755,115.3M2765,115.3L2775,115.3M2785,115.3L2795,115.3M2805,115.3L2815,115.3M2825,115.3L2835,115.3M2845,115.3L2855,115.3M2865,115.3L2875,115.3M2885,115.3L2895,115.3M2905,115.3L2915,115.3M2925,115.3L2935,115.3M2945,115.3L2955,115.3M2965,115.3L2975,115.3M2985,115.3L2995,115.3M3005,115.3L3015,115.3M3025,115.3L3035,115.3M3045,115.3L3055,115.3M3065,115.3L3075,115.3M3085,115.3L3095,115.3M3105,115.3L3115,115.3M3125,115.3L3135,115.3M3145,115.3L3155,115.3M3165,115.2L3175,115.2M3185,115.2L3195,115.2M3205,115.2L3215,115.2M3225,115.2L3235,115.1M3245,115.1L3255,115.1M3265,115.1L3275,115.1M3285,115.1L3295,115M3305,115L3315,115M3325,115L3335,115M3345,114.9L3355,114.9M3365,114.9L3375,114.9M3385,114.9L3395,114.9M3405,114.8L3415,114.8M3425,114.8L3435,114.8M3445,114.8L3455,114.8M3465,114.8L3475,114.7M3485,114.7L3495,114.7M3505,114.7L3515,114.7M3525,114.7L3535,114.7M3545,114.7L3555,114.7M3565,114.7L3575,114.7M3585,114.7L3595,114.7M3605,114.7L3615,114.7M3625,114.7L3635,114.8M3645,114.8L3655,114.8M3665,114.8L3675,114.8M3685,114.9L3695,114.9M3705,114.9L3715,115M3725,115L3735,115M3745,115.1L3755,115.1M3765,115.2L3775,115.2M3785,115.3L3795,115.2M3805,114.8L3815,114.6M3825,115.8L3835,118.4M3845,122.1L3855,126.3M3865,131.2L3870.5,135.2L3874.8,139.6M3882.6,149.6L3890.7,159.6M3899.4,169.6L3906.2,179.6M3911.3,189.6L3915.8,199.6M3920.5,209.6L3925.2,219.6M3929.8,229.6L3934.1,239.6M3938.1,249.6L3941.7,259.6M3945.2,269.6L3948.8,279.6M3952.3,289.6L3955.8,299.6M3959.6,309.6L3963.9,319.6M3968.3,329.6L3972.3,339.6M3975.8,349.6L3978.8,359.6M3981.5,369.6L3983.9,379.6M3986.1,389.6L3988.1,399.6M3990,409.6L3991.8,419.6M3993.6,429.6L3995.4,439.6M3997.2,449.6L3999.1,459.6M4001.2,469.6L4003.5,479.6M4005.7,489.6L4008,499.6M4010.2,509.6L4012.5,519.6M4014.7,529.6L4016.9,539.6M4019.1,549.6L4021.3,559.6M4023.4,569.6L4025.5,579.6M4027.6,589.6L4029.7,599.6M4031.8,609.6L4033.8,619.6M4035.8,629.6L4037.8,639.6M4039.6,649.6L4041.5,659.6M4043.3,669.6L4045,679.6M4046.4,689.6L4047.5,699.6M4048.3,709.6L4049,719.6M4049.6,729.6L4050,735" stroke="#9a32cd"/>
<path d="M2209,159.6L2219,159.4M2229,159.2L2239,159M2249,158.8L2259,158.7M2269,158.5L2279,158.3M2289,158.2L2299,158M2309,157.9L2319,157.7M2329,157.6L2339,157.4M2349,157.3L2359,157.2M2369,157.1L2379,157M2389,157L2399,156.9M2409,156.9L2419,157M2429,157L2439,157.1M2449,157.2L2459,157.4M2469,157.5L2479,157.7M2489,157.9L2499,158.1M2509,158.4L2519,158.6M2529,158.9L2539,159.3M2549,159.6L2559,160M2569,160.5L2579,160.9M2589,161.4L2599,161.9M2609,162.4L2619,162.9M2629,163.5L2639,164.1M2649,164.6L2659,165.2M2669,165.8L2679,166.3M2689,166.9L2699,167.5M2709,168.1L2719,168.7M2729,169.3L2739,170M2749,170.6L2759,171.3M2769,172.1L2779,172.9M2789,173.7L2799,174.5M2809,175.4L2819,176.4M2829,177.4L2839,178.4M2849,179.4L2859,180.5M2869,181.6L2879,182.7M2889,183.9L2899,185.1M2909,186.3L2919,187.5M2929,188.7L2939,190M2949,191.2L2959,192.5M2969,193.7L2979,195M2989,196.3L2999,197.6M3009,198.9L3019,200.3M3029,201.7L3039,203.2M3049,204.7L3059,206.3M3069,207.9L3079,209.7M3089,211.5L3099,213.4M3109,215.3L3119,217.3M3129,219.4L3139,221.5M3149,223.7L3159,225.9M3169,228.2L3179,230.5M3189,232.9L3199,235.3M3209,237.7L3219,240.2M3229,242.7L3239,245.2M3249,247.8L3259,250.3M3269,252.9L3279,255.5M3289,258.1L3299,260.7M3309,263.4L3319,266.1M3329,268.9L3339,271.8M3349,274.8L3359,277.8M3369,281L3379,284.3M3389,287.7L3399,291.3M3409,295L3419,298.9M3429,302.9L3439,307M3449,311.3L3459,315.7M3469,320.2L3479,324.8M3489,329.5L3499,334.2M3509,339L3519,343.9M3529,348.8L3539,353.7M3549,358.6L3559,363.5M3569,368.5L3579,373.4M3589,378.4L3599,383.5M3609,388.6L3619,393.8M3629,399L3639,404.3M3649,409.6L3659,415M3669,420.4L3679,425.9M3689,431.4L3699,437M3709,442.6L3719,448.3M3729,454L3739,459.6M3749,465.1L3759,470.6M3769,476.1L3779,481.7M3789,487.6L3799,493.6M3809,500L3819,506.9M3829,514.2L3839,522.3M3849,531L3859,540.3M3869,549.9L3879,559.5M3889,569L3899,578M3909,586.7L3919,595.4M3929,604.4L3939,613.9M3949,623.7L3958.7,633.7M3968.1,643.7L3977,653.7M3985.6,663.7L3993.6,673.7M4001.1,683.7L4008.5,693.7M4016.2,703.7L4024.6,713.7M4033.4,723.7L4042.3,733.7" stroke="#9a32cd"/>
<path d="M2924.5,250.4L2934.5,254.8M2944.5,259.3L2954.5,263.8M2964.5,268.3L2974.5,272.8M2984.5,277.2L2994.5,281.6M3004.5,285.9L3014.5,290.2M3024.5,294.4L3034.5,298.7M3044.5,302.9L3054.5,307.2M3064.5,311.5L3074.5,315.8M3084.5,320.2L3094.5,324.7M3104.5,329.2L3114.5,333.7M3124.5,338.2L3134.5,342.8M3144.5,347.4L3154.5,352M3164.5,356.6L3174.5,361.2M3184.5,365.8L3194.5,370.5M3204.5,375.1L3214.5,379.8M3224.5,384.4L3234.5,389.1M3244.5,393.7L3254.5,398.4M3264.5,403L3274.5,407.7M3284.5,412.4L3294.5,417.2M3304.5,421.9L3314.5,426.6M3324.5,431.3L3334.5,436M3344.5,440.7L3354.5,445.4M3364.5,450L3374.5,454.6M3384.5,459.2L3394.5,463.8M3404.5,468.3L3414.5,472.8M3424.5,477.3L3434.5,481.9M3444.5,486.4L3454.5,490.9M3464.5,495.4L3474.5,499.9M3484.5,504.3L3494.5,508.7M3504.5,513.1L3514.5,517.3M3524.5,521.5L3534.5,525.6M3544.5,529.7L3554.5,533.6M3564.5,537.5L3574.5,541.1M3584.5,544.6L3594.5,548.1M3604.5,551.6L3614.5,555.2M3624.5,559L3634.5,563.1M3644.5,567.3L3654.5,571.7M3664.5,576.3L3674.5,580.9M3684.5,585.4L3694.5,590M3704.5,594.4L3714.5,598.8M3724.5,603.1L3734.5,607.4M3744.5,611.7L3754.5,616M3764.5,620.3L3774.5,624.6M3784.5,629L3794.5,633.3M3804.5,637.7L3814.5,642.1M3824.5,646.6L3834.5,651.1M3844.5,655.6L3854.5,660.1M3864.5,664.6L3874.5,669.1M3884.5,673.6L3894.5,678.1M3904.5,682.6L3914.5,687.2M3924.5,691.7L3934.5,696.3M3944.5,700.8L3954.5,705.3M3964.5,709.8L3974.5,714.1M3984.5,718.4L3994.5,722.7M4004.5,726.9L4014.5,731.2" stroke="#9a32cd"/>
<path d="M2563.2,898.6L2573.2,898M2583.2,897.4L2593.2,896.7M2603.2,896.1L2613.2,895.4M2623.2,894.8L2633.2,894.2M2643.2,893.6L2653.2,893M2663.2,892.4L2673.2,891.8M2683.2,891.2L2693.2,890.7M2703.2,890.1L2713.2,889.5M2723.2,889L2733.2,888.4M2743.2,887.9L2753.2,887.3M2763.2,886.8L2773.2,886.2M2783.2,885.7L2793.2,885.2M2803.2,884.7L2813.2,884.1M2823.2,883.6L2833.2,883.1M2843.2,882.5L2853.2,881.9M2863.2,881.3L2873.2,880.7M2883.2,880L2893.2,879.4M2903.2,878.7L2913.2,878.1M2923.2,877.4L2933.2,876.7M2943.2,876L2953.2,875.3M2963.2,874.6L2973.2,873.9M2983.2,873.1L2993.2,872.4M3003.2,871.7L3013.2,870.9M3023.2,870.2L3033.2,869.4M3043.2,868.6L3053.2,867.9M3063.2,867.1L3073.2,866.3M3083.2,865.6L3093.2,864.8M3103.2,864L3113.2,863.2M3123.2,862.4L3133.2,861.6M3143.2,860.8L3153.2,860M3163.2,859.2L3173.2,858.4M3183.2,857.5L3193.2,856.7M3203.2,855.9L3213.2,855.1M3223.2,854.3L3233.2,853.5M3243.2,852.7L3253.2,852M3263.2,851.2L3273.2,850.5M3283.2,849.7L3293.2,849M3303.2,848.3L3313.2,847.6M3323.2,846.9L3333.2,846.2M3343.2,845.5L3353.2,844.8M3363.2,844.1L3373.2,843.4M3383.2,842.7L3393.2,841.9M3403.2,841.2L3413.2,840.5M3423.2,839.8L3433.2,839M3443.2,838.3L3453.2,837.6M3463.2,836.8L3473.2,836.1M3483.2,835.4L3493.2,834.7M3503.2,834.1L3513.2,833.4M3523.2,832.8L3533.2,832.2M3543.2,831.5L3553.2,830.8M3563.2,830L3573.2,829.2M3583.2,828.3L3593.2,827.3M3603.2,826.3L3613.2,825.1M3623.2,823.8L3633.2,822.5M3643.2,821.1L3653.2,819.7M3663.2,818.2L3673.2,816.7M3683.2,815.3L3693.2,813.9M3703.2,812.5L3713.2,811.3M3723.2,810L3733.2,808.8M3743.2,807.6L3753.2,806.3M3763.2,805L3773.2,803.7M3783.2,802.4L3793.2,800.9M3803.2,799.5L3813.2,798M3823.2,796.5L3833.2,794.9M3843.2,793.4L3853.2,791.9M3863.2,790.4L3873.2,789M3883.2,787.6L3893.2,786.2M3903.2,784.8L3913.2,783.3M3923.2,781.6L3933.2,779.8M3943.2,778L3953.2,776.1M3963.2,774.1L3973.2,771.8M3983.2,769.1L3993.2,765.8M4003.2,762.4L4004.3,762" stroke="#9a32cd"/>
<path d="M3636.9,997.3L3646.9,997.2M3656.9,997.1L3666.9,997.1M3676.9,997L3686.9,996.9M3696.9,996.7L3706.9,996.4M3716.9,996L3726.9,995.6M3736.9,995.2L3746.9,994.6M3756.9,994L3766.9,993.2M3776.9,992.2L3786.9,991.1M3796.9,989.9L3806.9,988.5M3816.9,987.1L3826.9,985.4M3836.9,983.5L3846.9,981.4M3856.9,978.9L3866.9,976M3876.9,972.9L3886.9,969.5M3896.9,965.9L3906.9,962.2M3916.9,958.5L3926.9,954.9M3936.9,951.1L3946.9,946.6M3956.9,940.9L3966.9,934.3M3976.9,926.6L3986.9,917.4M3995.8,907.4L4003.6,897.4M4010.5,887.4L4016.6,877.4M4021.9,867.4L4026.8,857.4M4031.1,847.4L4034.9,837.4M4038.2,827.4L4041.2,817.4M4043.9,807.4L4046.2,797.4M4048.1,787.4L4049.8,777.4M4051.4,767.4L4052.5,761.4" stroke="#9a32cd"/>
<path d="M3057,1089.7L3067,1090M3077,1090.3L3087,1090.6M3097,1090.9L3107,1091.2M3117,1091.5L3127,1091.8M3137,1092L3147,1092.3M3157,1092.5L3167,1092.7M3177,1092.9L3187,1093.1M3197,1093.3L3207,1093.4M3217,1093.6L3227,1093.7M3237,1093.8L3247,1093.9M3257,1093.9L3267,1094M3277,1094L3287,1094M3297,1094L3307,1094M3317,1093.9L3327,1093.9M3337,1093.8L3347,1093.7M3357,1093.6L3367,1093.4M3377,1093.3L3387,1093.1M3397,1092.9L3407,1092.7M3417,1092.5L3427,1092.3M3437,1092L3447,1091.7M3457,1091.4L3467,1091.1M3477,1090.8L3487,1090.5M3497,1090.1L3507,1089.7M3517,1089.3L3527,1088.9M3537,1088.5L3547,1088M3557,1087.5L3567,1087M3577,1086.4L3587,1085.8M3597,1085.2L3607,1084.6M3617,1083.9L3627,1083.2M3637,1082.4L3647,1081.6M3657,1080.8L3667,1079.8M3677,1078.8L3687,1077.7M3697,1076.5L3707,1075.3M3717,1074L3727,1072.6M3737,1071.1L3747,1069.5M3757,1067.8L3767,1066M3777,1064.1L3787,1062.1M3797,1060L3807,1057.7M3817,1055.2L3827,1052.5M3837,1049.7L3847,1046.7M3857,1043.5L3867,1040.2M3877,1036.8L3887,1033.4M3897,1029.9L3907,1026.3M3917,1022.1L3927,1017.3M3937,1011.7L3947,1005.4M3957,998.3L3967,990.1M3977,980.8L3986.3,970.8M3994.3,960.8L4001.3,950.8M4007.1,940.8L4012.1,930.8M4016.6,920.8L4020.8,910.8M4024.8,900.8L4028.4,890.8M4031.7,880.8L4034.7,870.8M4037.4,860.8L4039.9,850.8M4042,840.8L4044,830.8M4045.8,820.8L4047.4,810.8M4048.9,800.8L4050.2,790.8M4051.4,780.8L4052.5,770.8" stroke="#9a32cd"/>
<path d="M2508.6,1158.4L2518.6,1162M2528.6,1165L2538.6,1167.6M2548.6,1170L2558.6,1172.6M2568.6,1175.4L2578.6,1178.2M2588.6,1181L2598.6,1183.7M2608.6,1186.5L2618.6,1189.2M2628.6,1191.9L2638.6,1194.6M2648.6,1197.2L2658.6,1199.8M2668.6,1202.3L2678.6,1204.8M2688.6,1207.3L2698.6,1209.7M2708.6,1212.2L2718.6,1214.5M2728.6,1216.9L2738.6,1219.2M2748.6,1221.4L2758.6,1223.7M2768.6,1225.9L2778.6,1228.1M2788.6,1230.3L2798.6,1232.4M2808.6,1234.5L2818.6,1236.6M2828.6,1238.6L2838.6,1240.7M2848.6,1242.8L2858.6,1244.8M2868.6,1246.8L2878.6,1248.7M2888.6,1250.7L2898.6,1252.6M2908.6,1254.4L2918.6,1256.2M2928.6,1257.9L2938.6,1259.6M2948.6,1261.2L2958.6,1262.7M2968.6,1264.2L2978.6,1265.6M2988.6,1266.9L2998.6,1268.2M3008.6,1269.4L3018.6,1270.6M3028.6,1271.7L3038.6,1272.7M3048.6,1273.7L3058.6,1274.7M3068.6,1275.6L3078.6,1276.5M3088.6,1277.4L3098.6,1278.2M3108.6,1279L3118.6,1279.7M3128.6,1280.4L3138.6,1281M3148.6,1281.6L3158.6,1282.2M3168.6,1282.7L3178.6,1283.2M3188.6,1283.6L3198.6,1284M3208.6,1284.4L3218.6,1284.8M3228.6,1285.2L3238.6,1285.5M3248.6,1285.7L3258.6,1285.9M3268.6,1286.1L3278.6,1286.1M3288.6,1286.1L3298.6,1286.1M3308.6,1285.9L3318.6,1285.7M3328.6,1285.5L3338.6,1285.3M3348.6,1284.9L3358.6,1284.6M3368.6,1284.2L3378.6,1283.7M3388.6,1283.1L3398.6,1282.5M3408.6,1281.8L3418.6,1281M3428.6,1280.1L3438.6,1279.1M3448.6,1278L3458.6,1276.8M3468.6,1275.4L3478.6,1274M3488.6,1272.4L3498.6,1270.7M3508.6,1268.8L3518.6,1266.9M3528.6,1264.8L3538.6,1262.6M3548.6,1260.3L3558.6,1257.9M3568.6,1255.5L3578.6,1252.9M3588.6,1250.3L3598.6,1247.7M3608.6,1244.9L3618.6,1242.1M3628.6,1239.3L3638.6,1236.3M3648.6,1233.3L3658.6,1230.2M3668.6,1227.1L3678.6,1223.8M3688.6,1220.5L3698.6,1217.1M3708.6,1213.5L3718.6,1209.9M3728.6,1206.3L3738.6,1202.6M3748.6,1199L3758.6,1195.2M3768.6,1191.3L3778.6,1187.3M3788.6,1182.9L3798.6,1178.2M3808.6,1173.1L3818.6,1167.6M3828.6,1161.8L3838.6,1155.8M3848.6,1149.7L3858.6,1143.5M3868.6,1137.2L3878.6,1130.8M3888.6,1124.3L3898.6,1117.5M3908.6,1110.6L3918.6,1103.5M3928.6,1096.3L3938.6,1089.4M3948.6,1082.8L3958.6,1074.6M3966.7,1064.6L3972.4,1054.6M3977.1,1044.6L3981.6,1034.6M3986.4,1024.6L3991,1014.6M3995.4,1004.6L3999.5,994.6M4003.5,984.6L4007.3,974.6M4011,964.6L4014.4,954.6M4017.8,944.6L4020.9,934.6M4024,924.6L4027,914.6M4029.9,904.6L4032.8,894.6M4035.4,884.6L4037.9,874.6M4040.2,864.6L4042.3,854.6M4044.1,844.6L4045.8,834.6M4047.4,824.6L4048.8,814.6M4050.1,804.6L4051.2,794.6M4052.2,784.6L4053.1,774.6M4054.1,764.6L4054.4,761.4" stroke="#9a32cd"/>
<path d="M186.1,1284.5L196.1,1282.7M206.1,1280.8L216.1,1279M226.1,1277.3L236.1,1275.8M246.1,1274.4L256.1,1273.1M266.1,1271.9L276.1,1270.9M286.1,1270.1L296.1,1269.6M306.1,1269.2L316.1,1269M326.1,1269L336.1,1269.2M346.1,1269.6L356.1,1270.2M366.1,1271L376.1,1272.1M386.1,1273.2L396.1,1274.6M406.1,1275.9L416.1,1277.4M426.1,1279L436.1,1280.7M446.1,1282.5L456.1,1284.4M466.1,1286.4L476.1,1288.4M486.1,1290.6L496.1,1292.8M506.1,1295.1L516.1,1297.5M526.1,1299.9L536.1,1302.3M546.1,1304.8L556.1,1307.4M566.1,1310L576.1,1312.6M586.1,1315.3L596.1,1317.9M606.1,1320.7L616.1,1323.4M626.1,1326.2L636.1,1329.1M646.1,1331.9L656.1,1334.8M666.1,1337.8L676.1,1340.8M686.1,1343.8L696.1,1346.8M706.1,1349.9L716.1,1353.1M726.1,1356.3L736.1,1359.6M746.1,1363L756.1,1366.5M766.1,1370L776.1,1373.6M786.1,1377.3L796.1,1381M806.1,1384.9L816.1,1388.9M826.1,1393L836.1,1397.1M846.1,1401.2L856.1,1405.4M866.1,1409.5L875.9,1413.5" stroke="#9a32cd"/>
<path d="M254.3,1292.8L264.3,1293.1M274.3,1293.5L284.3,1293.9M294.3,1294.5L304.3,1295.1M314.3,1295.8L324.3,1296.7M334.3,1297.8L344.3,1299.2M354.3,1301L364.3,1303.1M374.3,1305.5L384.3,1308.2M394.3,1311.2L404.3,1314.4M414.3,1317.8L424.3,1321.4M434.3,1325.2L444.3,1329.4M454.3,1334L464.3,1339.2M474.3,1345.2L484.3,1351.9M494.3,1358.6L504.3,1365.1M514.3,1371.5L524.3,1377.9" stroke="#9a32cd"/>
<path d="M206.5,1316.3L216.5,1318.2M226.5,1320.2L236.5,1322.1M246.5,1324.1L256.5,1326M266.5,1328.1L276.5,1330.1M286.5,1332L296.5,1334M306.5,1335.8L316.5,1337.5M326.5,1339.3L336.5,1341.1M346.5,1343.1L356.5,1345M366.5,1346.4L371.6,1347.6L376.5,1349.4M386.5,1355.4L391,1359.5L394.2,1364.9M396.6,1374.9L398.3,1384.9M399.2,1394.9L400.1,1400L402,1404.9M408.3,1414.9L416.3,1424.9M425.8,1434.8L435.8,1443.4M445.8,1451L455.8,1457.8M465.8,1463.7L475.8,1469M485.8,1473.7L495.8,1477.8M505.8,1481.7L507,1482.2" stroke="#9a32cd"/>
<path d="M137.1,1324.5L144.1,1334.5M151.1,1344.5L158.4,1354.5M166.4,1364.5L175.3,1374.5M184.8,1384.5L194.3,1394.5M203.5,1404.5L212.2,1414.5M221.2,1424.5L230.9,1434.5M240.9,1443.6L250.9,1452.2M260.9,1459.1L270.9,1464.2M280.9,1468.1L290.9,1470.8M300.9,1471.9L310.9,1471.9M320.9,1472L330.9,1472.1M340.9,1471.8L350.9,1472.2M360.9,1474.4L366.9,1477.2L370.9,1479.7M380.9,1487.9L389.6,1497.9M395.8,1507.9L399.6,1517.9M401.5,1527.9L402.1,1537.9M401.3,1547.9L399.7,1557.9M397.6,1567.9L395,1577.9M392.9,1587.9L391.4,1597.9M390.4,1607.9L390.7,1617.9M392,1627.9L395,1637.9M401.1,1647.9L410.4,1657.9M420.4,1666.3L430.4,1672.7M440.4,1677.6L441.3,1678" stroke="#9a32cd"/>
<path d="M139.9,1517.2L147.1,1507.2M153.6,1497.2L160.2,1487.2M167.7,1477.2L175.6,1467.2M184,1457.2L193.1,1447.2M203,1437.4L213,1428.4M223,1420.1L233,1412.7M243,1406.2L253,1400.6M263,1395.7L273,1391.4M283,1387.6L293,1384.5M303,1381.8L313,1379.6M323,1377.8L333,1376.5M343,1375.7L353,1375.1M363,1374.7L373,1374.5M383,1374.6L393,1374.9M403,1375.2L413,1375.5M423,1375.8L433,1376.3M443,1376.8L453,1377.3M463,1377.8L470.6,1378.2" stroke="#9a32cd"/>
<path d="M218.1,1530L228.1,1529M238.1,1527.9L248.1,1526.9M258.1,1525.8L268.1,1524.6M278.1,1523.4L288.1,1522.1M298.1,1520.8L308.1,1519.6M318.1,1518.4L328.1,1517.3M338.1,1516.2L348.1,1515.2M358.1,1514.3L368.1,1513.3M378.1,1512.3L388.1,1511.2M398.1,1510.2L408.1,1509.1M418.1,1508.1L419.6,1507.9" stroke="#9a32cd"/>
<path d="M190.4,1558.4L200.4,1562.3M210.4,1565.8L220.4,1568.9M230.4,1571.4L240.4,1573.3M250.4,1574.7L260.4,1575.9M270.4,1577L280.4,1578.2M290.4,1579.3L300.4,1580.3M310.4,1581.1L320.4,1581.9M330.4,1582.6L340.4,1583.2M350.4,1583.8L360.4,1584.3M370.4,1584.8L380.4,1585.3M390.4,1585.7L400.4,1586M410.4,1586.1L420.4,1586.1M430.4,1585.9L440.4,1585.6M450.4,1585.1L460.4,1584.5M470.4,1583.7L480.4,1582.7M490.4,1581.7L500.4,1580.5M510.4,1579.2L520.4,1577.8M530.4,1576.2L540.4,1574.5M550.4,1572.7L560.4,1570.8M570.4,1568.8L580.4,1566.7M590.4,1564.5L600.4,1562.2M610.4,1559.8L620.4,1557.3M630.4,1554.7L640.4,1551.9M650.4,1549L660.4,1545.9M670.4,1542.6L680.4,1539.3M690.4,1535.8L700.4,1532.1M710.4,1528.3L720.4,1524.4M730.4,1520.3L740.4,1516.1M750.4,1511.7L760.4,1507.2M770.4,1502.5L780.4,1497.8M790.4,1492.9L800.4,1487.8M810.4,1482.4L820.4,1476.9M830.4,1471.5L840.4,1466.1M850.4,1461L860.4,1455.9M870.4,1450.9L880.4,1446M890.4,1441L891.9,1440.2" stroke="#9a32cd"/>
<path d="M175.2,1559.6L180.3,1561.8L185.2,1562.9M195.2,1564.2L205.2,1566.4M215.2,1569.9L225.2,1574.5M235.2,1580.7L240.7,1585.1L244.7,1589.6M249.7,1599.6L254.5,1609.6M260.4,1619.6L264.1,1624.5L269,1629.4M279,1636.9L289,1643.3M299,1648.5L309,1653.1M319,1657.4L329,1661.4M339,1665.1L349,1668.3M359,1671.3L369,1673.9M379,1676.1L389,1678M399,1679.7L409,1681.3M419,1682.8L429,1684.2M439,1685.6L441.3,1685.9" stroke="#9a32cd"/>
<path d="M181.7,1598.5L191.7,1596.1M201.7,1592.8L211.7,1587.9M221.7,1581.9L231.7,1574.6M240.9,1564.9L247,1554.9M251,1544.9L253.3,1534.9M254.2,1524.9L253.4,1514.9M252.2,1504.9L250.7,1494.9M249.3,1484.9L249.2,1474.9M250.4,1464.9L252,1459.8L254.4,1454.9M262.4,1445L267.2,1441.8L272.4,1439.6M282.4,1437.1L292.4,1434.7M302.4,1432.1L312.4,1429.9M322.4,1428.1L332.4,1426.4M342.4,1424.7L352.4,1422.9M362.4,1421.1L372.4,1419.3M382.4,1417.6L392.4,1415.9M402.4,1414.2L412.4,1412.4M422.4,1410.6L432.4,1408.7M442.4,1406.9L452.4,1405.1" stroke="#9a32cd"/>
<path d="M181.2,1599.6L191.2,1596M201.2,1592.5L211.2,1589.1M221.2,1586L231.2,1583.1M241.2,1580.6L251.2,1578.6M261.2,1576.8L271.2,1574.7M281.2,1572.4L291.2,1569.9M301.2,1567.3L311.2,1564.7M321.2,1562.2L331.2,1559.8M341.2,1557.4L351.2,1554.9M361.2,1552.2L371.2,1549.2M381.2,1546L391.2,1542.6M401.2,1539.3L411.2,1536M421.2,1532.7L431.2,1529.4M441.2,1526.1L451.2,1523M461.2,1520L471.2,1517.1M481.2,1514.2L491.2,1511.4M501.2,1508.5L503,1508" stroke="#9a32cd"/>
<path d="M181.7,1621.5L191.7,1623M201.7,1624.4L211.7,1625.9M221.7,1627.3L231.7,1628.8M241.7,1630.4L251.7,1631.9M261.7,1633.4L271.7,1634.7M281.7,1635.9L291.7,1636.9M301.7,1637.9L311.7,1638.8M321.7,1639.5L331.7,1640.1M341.7,1640.6L351.7,1641M361.7,1641.4L371.7,1641.8M381.7,1642.1L391.7,1642.3M401.7,1642.5L411.7,1642.5M421.7,1642.5L431.7,1642.4M441.7,1642.3L451.7,1642M461.7,1641.6L471.7,1641.2M481.7,1640.6L491.7,1639.8M501.7,1639L511.7,1638.1M521.7,1637.1L531.7,1636M541.7,1634.8L551.7,1633.6M561.7,1632.4L571.7,1631.1M581.7,1629.7L591.7,1628.1M601.7,1626.4L611.7,1624.4M621.7,1622.2L631.7,1619.8M641.7,1617.2L651.7,1614.5M661.7,1611.4L671.7,1608.1M681.7,1604.5L691.7,1600.6M701.7,1596.5L711.7,1592.2M721.7,1587.6L731.7,1583M741.7,1578.2L751.7,1572.9M761.7,1566.6L771.7,1559.3M781.7,1551.4L791.7,1543.4M801.7,1535.3L811.7,1526.9M821.7,1518.1L831.7,1508.8M841.6,1498.8L851.2,1488.8M861.2,1479L871.2,1470.2M881.2,1461.9L891.2,1452.5M900.4,1442.5L902.5,1440.2" stroke="#9a32cd"/>
<path d="M144.3,1633.2L154.3,1641.5M164.3,1649.8L174.3,1657.7M184.3,1665.4L194.3,1672.7M204.3,1679.3L214.3,1685.2M224.3,1690.6L234.3,1695.5M244.3,1699.8L254.3,1703.8M264.3,1707.2L274.3,1710M284.3,1712L294.3,1713.5M304.3,1714.7L314.3,1715.7M324.3,1716.6L334.3,1717.3M344.3,1717.8L354.3,1718M364.3,1718.1L374.3,1717.9M384.3,1717.5L394.3,1716.8M404.3,1716.1L414.3,1715.1M424.3,1714L434.3,1712.7M444.3,1711.3L454.3,1709.8M464.3,1708.1L474.3,1706.3M484.3,1704.4L494.3,1702.6" stroke="#9a32cd"/>
<path d="M661.2,1402.8C661.5,1402.8 661.8,1402.9 662.1,1402.9C705.4,1407.6 748.8,1411.4 792.1,1415.6" stroke="#191970"/>
<path d="M625.8,1479.5C626.3,1479.4 626.8,1479.3 627.3,1479.2C657.9,1473 688.8,1468.1 719.6,1462.5C761,1455 802.5,1447.4 843.9,1439.8" stroke="#191970"/>
<path d="M631.2,1672.4C631.6,1672.3 632.1,1672.2 632.6,1672.1C661.5,1666.4 690.7,1661.8 719.6,1656.1C755.3,1649 790.9,1641.5 826.2,1633C861.9,1624.4 897.2,1614.2 932.7,1604.6C977.8,1592.4 1022.7,1579.7 1067.7,1567.3" stroke="#191970"/>
</g>
<g stroke-width="1" shape-rendering="crispEdges">
<polygon points="933.5,206 941.4,194.7 946.7,202.1" fill="#9a32cd" stroke="#9a32cd"/>
<polygon points="933.5,210.8 943.3,201.1 947.2,209.4" fill="#9a32cd" stroke="#9a32cd"/>
<polygon points="933.5,215.4 945.2,208.2 947.2,217.2" fill="#9a32cd" stroke="#9a32cd"/>
<polygon points="933.5,218.3 946.5,213.7 946.5,222.9" fill="#9a32cd" stroke="#9a32cd"/>
<polygon points="933.5,223.8 947.2,222.3 945.1,231.3" fill="#9a32cd" stroke="#9a32cd"/>
<polygon points="933.5,228.3 947,231.1 942.2,239" fill="#9a32cd" stroke="#9a32cd"/>
<polygon points="926.3,230.6 939.2,235.6 933.2,242.6" fill="#9a32cd" stroke="#9a32cd"/>
<polygon points="1614.5,280.4 1627.6,276.2 1627.4,285.4" fill="#9a32cd" stroke="#9a32cd"/>
<polygon points="1623,335.4 1636.2,331.4 1635.8,340.6" fill="#9a32cd" stroke="#9a32cd"/>
<polygon points="1618,382.3 1631.2,378.2 1630.8,387.4" fill="#191970" stroke="#191970"/>
<polygon points="1595,430.2 1607.9,425.4 1608.1,434.6" fill="#9a32cd" stroke="#9a32cd"/>
<polygon points="576,678.9 586.2,669.6 589.8,678.1" fill="#9a32cd" stroke="#9a32cd"/>
<polygon points="125.5,1068.4 123.5,1054.8 132.5,1056.5" fill="#9a32cd" stroke="#9a32cd"/>
<polygon points="2511.3,396.9 2524.3,392.3 2524.3,401.5" fill="#9a32cd" stroke="#9a32cd"/>
<polygon points="2123.8,574 2136.8,569.4 2136.8,578.6" fill="#9a32cd" stroke="#9a32cd"/>
<polygon points="2549.2,640.6 2562.4,636.6 2562,645.8" fill="#9a32cd" stroke="#9a32cd"/>
<polygon points="2554.2,688.2 2567.2,683.6 2567.2,692.8" fill="#9a32cd" stroke="#9a32cd"/>
<polygon points="2627.8,729.9 2640.5,724.6 2641,733.8" fill="#191970" stroke="#191970"/>
<polygon points="2544.2,798.8 2557.1,793.9 2557.3,803.1" fill="#9a32cd" stroke="#9a32cd"/>
<polygon points="2550.2,898.2 2562.5,892.1 2563.7,901.2" fill="#9a32cd" stroke="#9a32cd"/>
<polygon points="964,627.6 976.6,622 977.3,631.2" fill="#9a32cd" stroke="#9a32cd"/>
<polygon points="1568.3,634 1581.3,629.4 1581.3,638.6" fill="#9a32cd" stroke="#9a32cd"/>
<polygon points="1573.3,684.6 1586.3,680 1586.3,689.2" fill="#9a32cd" stroke="#9a32cd"/>
<polygon points="968.3,735.2 981.3,730.6 981.3,739.8" fill="#9a32cd" stroke="#9a32cd"/>
<polygon points="1613.3,735.9 1626.3,731.4 1626.3,740.6" fill="#9a32cd" stroke="#9a32cd"/>
<polygon points="1625.2,783 1638.1,778 1638.3,787.2" fill="#9a32cd" stroke="#9a32cd"/>
<polygon points="1680,824 1692.7,818.6 1693.2,827.8" fill="#191970" stroke="#191970"/>
<polygon points="587.2,684.2 599.6,678.1 600.7,687.2" fill="#191970" stroke="#191970"/>
<polygon points="587.2,698.2 600.5,694.6 599.8,703.8" fill="#191970" stroke="#191970"/>
<polygon points="550.6,706.2 560.1,716.2 551.6,720" fill="#191970" stroke="#191970"/>
<polygon points="3952.2,748.5 3965.2,743.9 3965.2,753.1" fill="#191970" stroke="#191970"/>
<polygon points="3234.2,691.4 3247.6,688 3246.7,697.1" fill="#191970" stroke="#191970"/>
<polygon points="3328.4,781.6 3341.1,776.1 3341.7,785.3" fill="#191970" stroke="#191970"/>
<polygon points="2512.3,857.7 2525.5,853.8 2525,863" fill="#191970" stroke="#191970"/>
<polygon points="1557,942.3 1570.2,938.4 1569.7,947.6" fill="#191970" stroke="#191970"/>
<polygon points="1699.2,893.7 1712.2,889.1 1712.2,898.3" fill="#191970" stroke="#191970"/>
<polygon points="1710.8,986.3 1723.6,981.2 1724,990.4" fill="#191970" stroke="#191970"/>
<polygon points="1748.7,1032.4 1761.6,1027.6 1761.8,1036.8" fill="#191970" stroke="#191970"/>
<polygon points="1849.7,1087.7 1862.7,1083 1862.7,1092.2" fill="#191970" stroke="#191970"/>
<polygon points="928.9,986.9 936.1,975.1 941.9,982.3" fill="#191970" stroke="#191970"/>
<polygon points="1017,988 1029.7,982.6 1030.3,991.8" fill="#191970" stroke="#191970"/>
<polygon points="1017,1007.2 1030.3,1003.4 1029.7,1012.6" fill="#191970" stroke="#191970"/>
<polygon points="1004,1013.2 1017.7,1011.9 1015.5,1020.8" fill="#191970" stroke="#191970"/>
<polygon points="584.2,1030.6 596.6,1024.7 597.6,1033.8" fill="#191970" stroke="#191970"/>
<polygon points="218.4,1070.4 230.7,1064.2 231.9,1073.4" fill="#9a32cd" stroke="#9a32cd"/>
<polygon points="218.4,1086 231.4,1081.4 231.4,1090.6" fill="#9a32cd" stroke="#9a32cd"/>
<polygon points="152.5,1094.4 166.2,1096 162.1,1104.3" fill="#9a32cd" stroke="#9a32cd"/>
<polygon points="927.9,748.5 939.8,755.4 932.9,761.4" fill="#9a32cd" stroke="#9a32cd"/>
<polygon points="1008.1,1062.2 1021.5,1058.8 1020.6,1067.9" fill="#9a32cd" stroke="#9a32cd"/>
<polygon points="941.6,1413.9 951,1403.8 955.3,1412" fill="#9a32cd" stroke="#9a32cd"/>
<polygon points="1568.4,1139.8 1581.4,1135.2 1581.4,1144.4" fill="#9a32cd" stroke="#9a32cd"/>
<polygon points="1156,1541.3 1167.1,1533.1 1169.8,1541.9" fill="#9a32cd" stroke="#9a32cd"/>
<polygon points="3558.7,43.5 3570.6,36.5 3572.3,45.6" fill="#9a32cd" stroke="#9a32cd"/>
<polygon points="2192,115.3 2205,110.7 2205,119.9" fill="#9a32cd" stroke="#9a32cd"/>
<polygon points="2196,159.6 2209,155 2209,164.2" fill="#9a32cd" stroke="#9a32cd"/>
<polygon points="2912.4,245.7 2926.2,246.1 2922.9,254.7" fill="#9a32cd" stroke="#9a32cd"/>
<polygon points="2550.2,899.2 2563,894 2563.4,903.2" fill="#9a32cd" stroke="#9a32cd"/>
<polygon points="3623.9,996.5 3637.2,992.7 3636.6,1001.9" fill="#9a32cd" stroke="#9a32cd"/>
<polygon points="3044,1089.5 3057.1,1085.1 3056.9,1094.3" fill="#9a32cd" stroke="#9a32cd"/>
<polygon points="2496.5,1153.6 2510.3,1154.2 2506.9,1162.7" fill="#9a32cd" stroke="#9a32cd"/>
<polygon points="173.4,1287.3 185.1,1280 187.1,1289" fill="#9a32cd" stroke="#9a32cd"/>
<polygon points="241.3,1292.2 254.5,1288.2 254.1,1297.4" fill="#9a32cd" stroke="#9a32cd"/>
<polygon points="193.8,1313.5 207.5,1311.8 205.5,1320.8" fill="#9a32cd" stroke="#9a32cd"/>
<polygon points="130.2,1313.5 141,1322.1 133.1,1327" fill="#9a32cd" stroke="#9a32cd"/>
<polygon points="131.8,1527.4 136.3,1514.4 143.5,1520.1" fill="#9a32cd" stroke="#9a32cd"/>
<polygon points="205.1,1531 217.7,1525.4 218.4,1534.6" fill="#9a32cd" stroke="#9a32cd"/>
<polygon points="178.3,1553.6 192.1,1554.1 188.7,1562.7" fill="#9a32cd" stroke="#9a32cd"/>
<polygon points="163.7,1553.6 177.3,1555.6 173.1,1563.7" fill="#9a32cd" stroke="#9a32cd"/>
<polygon points="168.8,1600 181.2,1593.9 182.2,1603" fill="#9a32cd" stroke="#9a32cd"/>
<polygon points="168.8,1603.5 179.8,1595.2 182.6,1604" fill="#9a32cd" stroke="#9a32cd"/>
<polygon points="168.8,1620 182.2,1616.9 181.2,1626.1" fill="#9a32cd" stroke="#9a32cd"/>
<polygon points="136.6,1622.7 148,1630.5 140.6,1635.9" fill="#9a32cd" stroke="#9a32cd"/>
<polygon points="648.3,1401.4 661.7,1398.2 660.7,1407.4" fill="#191970" stroke="#191970"/>
<polygon points="613.1,1482.1 624.9,1475 626.8,1484" fill="#191970" stroke="#191970"/>
<polygon points="618.4,1674.9 630.3,1667.9 632,1676.9" fill="#191970" stroke="#191970"/>
</g>
<g>
<text x="907.9" y="222" textLength="7.9" lengthAdjust="spacingAndGlyphs">T</text>
<text x="3362.9" y="61" textLength="298.1" lengthAdjust="spacingAndGlyphs">std::map&lt; MSG::Level, IssueSeverity::Level &gt;</text>
<text x="1885.5" y="119" textLength="291.7" lengthAdjust="spacingAndGlyphs">std::map&lt; IssueSeverity::Level, std::string &gt;</text>
<text x="1882.9" y="173" textLength="298.1" lengthAdjust="spacingAndGlyphs">std::map&lt; IssueSeverity::Level, MSG::Level &gt;</text>
<text x="2735.7" y="237" textLength="291.7" lengthAdjust="spacingAndGlyphs">std::map&lt; std::string, IssueSeverity::Level &gt;</text>
<text x="1434.9" y="283" textLength="165.8" lengthAdjust="spacingAndGlyphs">std::vector&lt; Property * &gt;</text>
<text x="1424.9" y="334" textLength="184.3" lengthAdjust="spacingAndGlyphs">std::vector&lt; RemProperty &gt;</text>
<text x="1429.8" y="385" textLength="174.1" lengthAdjust="spacingAndGlyphs">implements1&lt; IProperty &gt;</text>
<text x="1452.8" y="435" textLength="127.9" lengthAdjust="spacingAndGlyphs">std::vector&lt; bool &gt;</text>
<text x="2416.9" y="406" textLength="79.8" lengthAdjust="spacingAndGlyphs">PropertyMgr</text>
<text x="1954" y="583" textLength="156.1" lengthAdjust="spacingAndGlyphs">SmartIF&lt; ISvcLocator &gt;</text>
<text x="874.1" y="638" textLength="75.4" lengthAdjust="spacingAndGlyphs">ISvcLocator</text>
<text x="1479.8" y="638" textLength="74.3" lengthAdjust="spacingAndGlyphs">IAuditorSvc</text>
<text x="2379.3" y="642" textLength="155" lengthAdjust="spacingAndGlyphs">SmartIF&lt; IAuditorSvc &gt;</text>
<text x="512" y="697" textLength="62" lengthAdjust="spacingAndGlyphs">IInterface</text>
<text x="1474.8" y="689" textLength="83.9" lengthAdjust="spacingAndGlyphs">ISvcManager</text>
<text x="2375" y="693" textLength="164.6" lengthAdjust="spacingAndGlyphs">SmartIF&lt; ISvcManager &gt;</text>
<text x="3172" y="691" textLength="48" lengthAdjust="spacingAndGlyphs">Service</text>
<text x="870" y="739" textLength="83.9" lengthAdjust="spacingAndGlyphs">IMessageSvc</text>
<text x="1434.9" y="739" textLength="164.6" lengthAdjust="spacingAndGlyphs">SmartIF&lt; IMessageSvc &gt;</text>
<text x="2229.9" y="747" textLength="454.8" lengthAdjust="spacingAndGlyphs">CommonMessaging&lt; implements3&lt; IService, IProperty, IStateful &gt; &gt;</text>
<text x="3708.9" y="753" textLength="228.7" lengthAdjust="spacingAndGlyphs">extends1&lt; Service, IIssueLogger &gt;</text>
<text x="4013.2" y="753" textLength="78.4" lengthAdjust="spacingAndGlyphs">IssueLogger</text>
<text x="1423.6" y="790" textLength="186.7" lengthAdjust="spacingAndGlyphs">std::auto_ptr&lt; MsgStream &gt;</text>
<text x="2383.8" y="806" textLength="146.4" lengthAdjust="spacingAndGlyphs">SimpleProperty&lt; int &gt;</text>
<text x="3077" y="795" textLength="236.9" lengthAdjust="spacingAndGlyphs">extend_interfaces1&lt; IIssueLogger &gt;</text>
<text x="1368.3" y="841" textLength="297.2" lengthAdjust="spacingAndGlyphs">implements3&lt; IService, IProperty, IStateful &gt;</text>
<text x="2415.8" y="859" textLength="82.3" lengthAdjust="spacingAndGlyphs">IIssueLogger</text>
<text x="1350.3" y="891" textLength="333.2" lengthAdjust="spacingAndGlyphs">PropertyWithVerifier&lt; int,BoundedVerifier&lt; int &gt; &gt;</text>
<text x="2378.8" y="910" textLength="157.2" lengthAdjust="spacingAndGlyphs">SimpleProperty&lt; bool &gt;</text>
<text x="1491.2" y="942" textLength="51.9" lengthAdjust="spacingAndGlyphs">IService</text>
<text x="1340.1" y="993" textLength="354.9" lengthAdjust="spacingAndGlyphs">PropertyWithVerifier&lt; bool,BoundedVerifier&lt; bool &gt; &gt;</text>
<text x="3414" y="990" textLength="195.6" lengthAdjust="spacingAndGlyphs">SimpleProperty&lt; std::string &gt;</text>
<text x="821" y="1005" textLength="182.2" lengthAdjust="spacingAndGlyphs">PropertyWithValue&lt; TYPE &gt;</text>
<text x="515" y="1039" textLength="55" lengthAdjust="spacingAndGlyphs">Property</text>
<text x="1301.2" y="1043" textLength="431.7" lengthAdjust="spacingAndGlyphs">PropertyWithVerifier&lt; std::string,BoundedVerifier&lt; std::string &gt; &gt;</text>
<text x="830" y="1061" textLength="164.4" lengthAdjust="spacingAndGlyphs">IInactiveMessageCounter</text>
<text x="38.5" y="1086" textLength="165.2" lengthAdjust="spacingAndGlyphs">std::basic_string&lt; char &gt;</text>
<text x="1201" y="1094" textLength="632.1" lengthAdjust="spacingAndGlyphs">PropertyWithVerifier&lt; std::vector&lt; std::string &gt;,BoundedVerifier&lt; std::vector&lt; std::string &gt; &gt; &gt;</text>
<text x="2733.5" y="1085" textLength="295.8" lengthAdjust="spacingAndGlyphs">SimpleProperty&lt; std::vector&lt; std::string &gt; &gt;</text>
<text x="1480.8" y="1145" textLength="73.3" lengthAdjust="spacingAndGlyphs">MsgStream</text>
<text x="2410.9" y="1145" textLength="91.9" lengthAdjust="spacingAndGlyphs">StreamLogger</text>
<text x="15.9" y="1305" textLength="210.1" lengthAdjust="spacingAndGlyphs">std::num_get&lt; _CharT, _InIter &gt;</text>
<text x="451" y="1395" textLength="183.3" lengthAdjust="spacingAndGlyphs">std::basic_ostream&lt; Char &gt;</text>
<text x="802.5" y="1431" textLength="218.7" lengthAdjust="spacingAndGlyphs">std::basic_ostringstream&lt; char &gt;</text>
<text x="418.7" y="1499" textLength="247.3" lengthAdjust="spacingAndGlyphs">std::basic_ostream&lt; _CharT, _Traits &gt;</text>
<text x="51" y="1545" textLength="140.2" lengthAdjust="spacingAndGlyphs">std::ctype&lt; _CharT &gt;</text>
<text x="1069.4" y="1559" textLength="82.4" lengthAdjust="spacingAndGlyphs">std::ostream</text>
<text x="87.2" y="1614" textLength="67.2" lengthAdjust="spacingAndGlyphs">std::locale</text>
<text x="451.7" y="1693" textLength="181.4" lengthAdjust="spacingAndGlyphs">std::basic_ostream&lt; char &gt;</text>
</g>
<g text-anchor="middle">
<text x="2033" y="56.1" textLength="60.4" lengthAdjust="spacingAndGlyphs">elements</text>
<text x="1111.5" y="160.8" textLength="60.4" lengthAdjust="spacingAndGlyphs">elements</text>
<text x="1111.5" y="188.8" textLength="60.4" lengthAdjust="spacingAndGlyphs">elements</text>
<text x="1518" y="216.8" textLength="60.4" lengthAdjust="spacingAndGlyphs">elements</text>
<text x="1111.5" y="247.8" textLength="60.4" lengthAdjust="spacingAndGlyphs">elements</text>
<text x="1111.5" y="279.9" textLength="60.4" lengthAdjust="spacingAndGlyphs">elements</text>
<text x="1111.5" y="336.8" textLength="60.4" lengthAdjust="spacingAndGlyphs">elements</text>
<text x="2032.7" y="276.8" textLength="73.2" lengthAdjust="spacingAndGlyphs">m_todelete</text>
<text x="2032.7" y="292.1" textLength="85.5" lengthAdjust="spacingAndGlyphs">m_properties</text>
<text x="2032.7" y="348.1" textLength="131.6" lengthAdjust="spacingAndGlyphs">m_remoteProperties</text>
<text x="2032" y="413.1" textLength="74.9" lengthAdjust="spacingAndGlyphs">m_isOwned</text>
<text x="1110.5" y="478.6" textLength="56" lengthAdjust="spacingAndGlyphs">m_name</text>
<text x="1110.5" y="552.6" textLength="64.3" lengthAdjust="spacingAndGlyphs">m_pOuter</text>
<text x="3823.7" y="17.1" textLength="98.2" lengthAdjust="spacingAndGlyphs">m_msgSevMap</text>
<text x="3196" y="111.4" textLength="84.4" lengthAdjust="spacingAndGlyphs">m_levelTrans</text>
<text x="3196" y="208.5" textLength="95.3" lengthAdjust="spacingAndGlyphs">m_sevMsgMap</text>
<text x="3512.5" y="438.6" textLength="92.7" lengthAdjust="spacingAndGlyphs">m_levelSTrans</text>
<text x="2881.6" y="400.1" textLength="99.6" lengthAdjust="spacingAndGlyphs">m_propertyMgr</text>
<text x="2457.6" y="566.8" textLength="89.3" lengthAdjust="spacingAndGlyphs">m_svcLocator</text>
<text x="1111.5" y="607.7" textLength="77.1" lengthAdjust="spacingAndGlyphs">m_interface</text>
<text x="1111.5" y="731.6" textLength="77.1" lengthAdjust="spacingAndGlyphs">m_interface</text>
<text x="1110.5" y="902.8" textLength="65.7" lengthAdjust="spacingAndGlyphs">m_service</text>
<text x="1110.5" y="1067.1" textLength="103.2" lengthAdjust="spacingAndGlyphs">m_inactCounter</text>
<text x="2032.8" y="633.4" textLength="77.1" lengthAdjust="spacingAndGlyphs">m_interface</text>
<text x="2032.8" y="684.1" textLength="77.1" lengthAdjust="spacingAndGlyphs">m_interface</text>
<text x="2032.8" y="736.4" textLength="68.5" lengthAdjust="spacingAndGlyphs">m_msgsvc</text>
<text x="2031.8" y="759.1" textLength="93.9" lengthAdjust="spacingAndGlyphs">m_msgStream</text>
<text x="2032" y="1136.1" textLength="61.1" lengthAdjust="spacingAndGlyphs">p_msgStr</text>
<text x="2881.6" y="645.1" textLength="97.9" lengthAdjust="spacingAndGlyphs">m_pAuditorSvc</text>
<text x="2881.6" y="684.8" textLength="97.8" lengthAdjust="spacingAndGlyphs">m_svcManager</text>
<text x="2881" y="738.8" textLength="96.4" lengthAdjust="spacingAndGlyphs">m_outputLevel</text>
<text x="2881.6" y="804.6" textLength="73.1" lengthAdjust="spacingAndGlyphs">m_auditInit</text>
<text x="3512.5" y="814.6" textLength="84.6" lengthAdjust="spacingAndGlyphs">m_showTime</text>
<text x="3825" y="926.7" textLength="95.3" lengthAdjust="spacingAndGlyphs">m_traceLevelS</text>
<text x="3825" y="940.9" textLength="101.4" lengthAdjust="spacingAndGlyphs">m_reportLevelS</text>
<text x="3511.4" y="1075.1" textLength="81.8" lengthAdjust="spacingAndGlyphs">m_outputfile</text>
<text x="322.3" y="1035.9" textLength="117.6" lengthAdjust="spacingAndGlyphs">m_documentation</text>
<text x="322.3" y="1050.8" textLength="56" lengthAdjust="spacingAndGlyphs">m_name</text>
<text x="735" y="1089.1" textLength="62.3" lengthAdjust="spacingAndGlyphs">m_source</text>
<text x="735" y="1104.1" textLength="58" lengthAdjust="spacingAndGlyphs">m_buffer</text>
<text x="912.9" y="1188.4" textLength="56" lengthAdjust="spacingAndGlyphs">m_name</text>
<text x="542.6" y="1272.1" textLength="81.2" lengthAdjust="spacingAndGlyphs">_M_num_get</text>
<text x="322.8" y="1289.1" textLength="81.2" lengthAdjust="spacingAndGlyphs">_M_num_get</text>
<text x="322.8" y="1323.1" textLength="81.2" lengthAdjust="spacingAndGlyphs">_M_num_get</text>
<text x="323.4" y="1371.1" textLength="60.4" lengthAdjust="spacingAndGlyphs">_M_ctype</text>
<text x="322.8" y="1412.9" textLength="87.3" lengthAdjust="spacingAndGlyphs">_M_ios_locale</text>
<text x="322.8" y="1456.6" textLength="81.2" lengthAdjust="spacingAndGlyphs">_M_num_get</text>
<text x="323.3" y="1507.8" textLength="60.4" lengthAdjust="spacingAndGlyphs">_M_ctype</text>
<text x="543.1" y="1531.6" textLength="60.4" lengthAdjust="spacingAndGlyphs">_M_ctype</text>
<text x="323.3" y="1540.8" textLength="87.3" lengthAdjust="spacingAndGlyphs">_M_ios_locale</text>
<text x="542.8" y="1602.7" textLength="87.3" lengthAdjust="spacingAndGlyphs">_M_ios_locale</text>
<text x="323.3" y="1624.1" textLength="60.4" lengthAdjust="spacingAndGlyphs">_M_ctype</text>
<text x="323.3" y="1702.6" textLength="87.3" lengthAdjust="spacingAndGlyphs">_M_ios_locale</text>
<text x="1111" y="1304.8" textLength="64.7" lengthAdjust="spacingAndGlyphs">m_stream</text>
<text x="1517" y="1326.7" textLength="34.6" lengthAdjust="spacingAndGlyphs">p_ost</text>
<text x="3512.5" y="1227.1" textLength="60.6" lengthAdjust="spacingAndGlyphs">m_logger</text>
</g>
</svg></body></html>
